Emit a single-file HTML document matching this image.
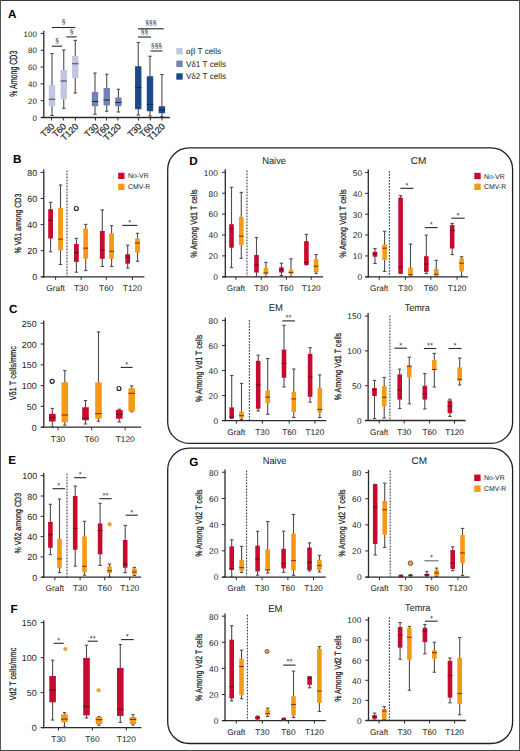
<!DOCTYPE html>
<html><head><meta charset="utf-8"><style>
html,body{margin:0;padding:0;background:#fff;}
svg{display:block;}
text{font-family:"Liberation Sans", sans-serif;text-rendering:geometricPrecision;}
</style></head><body>
<svg width="520" height="751" viewBox="0 0 520 751" font-family="Liberation Sans, sans-serif">
<rect x="0" y="0" width="520" height="751" fill="#fff"/>
<text x="8.1" y="17.7" font-size="11.7" text-anchor="start" font-weight="bold" fill="#000">A</text>
<text x="13" y="162.6" font-size="11.7" text-anchor="start" font-weight="bold" fill="#000">B</text>
<text x="9" y="313.1" font-size="11.7" text-anchor="start" font-weight="bold" fill="#000">C</text>
<text x="189.2" y="165" font-size="11.7" text-anchor="start" font-weight="bold" fill="#000">D</text>
<text x="8.2" y="463.9" font-size="11.7" text-anchor="start" font-weight="bold" fill="#000">E</text>
<text x="10.6" y="613.4" font-size="11.7" text-anchor="start" font-weight="bold" fill="#000">F</text>
<text x="189.2" y="465.8" font-size="11.7" text-anchor="start" font-weight="bold" fill="#000">G</text>
<rect x="167.7" y="147.9" width="344.9" height="295.5" rx="21.5" ry="21.5" fill="none" stroke="#222" stroke-width="1.3"/>
<rect x="167.7" y="448.2" width="344.9" height="295.3" rx="21.5" ry="21.5" fill="none" stroke="#222" stroke-width="1.3"/>
<line x1="43.8" y1="30.7" x2="43.8" y2="118.1" stroke="#2a2a2a" stroke-width="1.3"/>
<line x1="40.6" y1="117.5" x2="43.8" y2="117.5" stroke="#2a2a2a" stroke-width="1"/>
<text x="37.15" y="120.66" font-size="7.9" text-anchor="end" font-weight="normal" fill="#222" letter-spacing="0.15">0</text>
<line x1="40.6" y1="100.68" x2="43.8" y2="100.68" stroke="#2a2a2a" stroke-width="1"/>
<text x="37.15" y="103.84" font-size="7.9" text-anchor="end" font-weight="normal" fill="#222" letter-spacing="0.15">20</text>
<line x1="40.6" y1="83.86" x2="43.8" y2="83.86" stroke="#2a2a2a" stroke-width="1"/>
<text x="37.15" y="87.02" font-size="7.9" text-anchor="end" font-weight="normal" fill="#222" letter-spacing="0.15">40</text>
<line x1="40.6" y1="67.04" x2="43.8" y2="67.04" stroke="#2a2a2a" stroke-width="1"/>
<text x="37.15" y="70.2" font-size="7.9" text-anchor="end" font-weight="normal" fill="#222" letter-spacing="0.15">60</text>
<line x1="40.6" y1="50.22" x2="43.8" y2="50.22" stroke="#2a2a2a" stroke-width="1"/>
<text x="37.15" y="53.38" font-size="7.9" text-anchor="end" font-weight="normal" fill="#222" letter-spacing="0.15">80</text>
<line x1="40.6" y1="33.4" x2="43.8" y2="33.4" stroke="#2a2a2a" stroke-width="1"/>
<text x="37.15" y="36.56" font-size="7.9" text-anchor="end" font-weight="normal" fill="#222" letter-spacing="0.15">100</text>
<line x1="41.3" y1="117.5" x2="169.8" y2="117.5" stroke="#2a2a2a" stroke-width="1.3"/>
<line x1="51.5" y1="117.5" x2="51.5" y2="120.5" stroke="#2a2a2a" stroke-width="1"/>
<line x1="63.3" y1="117.5" x2="63.3" y2="120.5" stroke="#2a2a2a" stroke-width="1"/>
<line x1="75.4" y1="117.5" x2="75.4" y2="120.5" stroke="#2a2a2a" stroke-width="1"/>
<line x1="95.4" y1="117.5" x2="95.4" y2="120.5" stroke="#2a2a2a" stroke-width="1"/>
<line x1="106.6" y1="117.5" x2="106.6" y2="120.5" stroke="#2a2a2a" stroke-width="1"/>
<line x1="117.9" y1="117.5" x2="117.9" y2="120.5" stroke="#2a2a2a" stroke-width="1"/>
<line x1="138.6" y1="117.5" x2="138.6" y2="120.5" stroke="#2a2a2a" stroke-width="1"/>
<line x1="150.4" y1="117.5" x2="150.4" y2="120.5" stroke="#2a2a2a" stroke-width="1"/>
<line x1="162" y1="117.5" x2="162" y2="120.5" stroke="#2a2a2a" stroke-width="1"/>
<line x1="52" y1="53.5" x2="52" y2="115.5" stroke="#4e4e4e" stroke-width="1.1"/>
<line x1="50.3" y1="53.5" x2="53.7" y2="53.5" stroke="#4e4e4e" stroke-width="1.1"/>
<line x1="50.3" y1="115.5" x2="53.7" y2="115.5" stroke="#4e4e4e" stroke-width="1.1"/>
<rect x="48.8" y="85" width="6.4" height="21.25" fill="#c3c6df"/>
<line x1="48.8" y1="99.25" x2="55.2" y2="99.25" stroke="#3d4a7a" stroke-width="1.1"/>
<line x1="63.75" y1="50" x2="63.75" y2="108.25" stroke="#4e4e4e" stroke-width="1.1"/>
<line x1="62.05" y1="50" x2="65.45" y2="50" stroke="#4e4e4e" stroke-width="1.1"/>
<line x1="62.05" y1="108.25" x2="65.45" y2="108.25" stroke="#4e4e4e" stroke-width="1.1"/>
<rect x="60.55" y="70" width="6.4" height="29.25" fill="#c3c6df"/>
<line x1="60.55" y1="81" x2="66.95" y2="81" stroke="#3d4a7a" stroke-width="1.1"/>
<line x1="75.25" y1="40.4" x2="75.25" y2="93" stroke="#4e4e4e" stroke-width="1.1"/>
<line x1="73.55" y1="40.4" x2="76.95" y2="40.4" stroke="#4e4e4e" stroke-width="1.1"/>
<line x1="73.55" y1="93" x2="76.95" y2="93" stroke="#4e4e4e" stroke-width="1.1"/>
<rect x="72.05" y="56" width="6.4" height="22.25" fill="#c3c6df"/>
<line x1="72.05" y1="63.75" x2="78.45" y2="63.75" stroke="#3d4a7a" stroke-width="1.1"/>
<line x1="95" y1="73" x2="95" y2="114.25" stroke="#4e4e4e" stroke-width="1.1"/>
<line x1="93.3" y1="73" x2="96.7" y2="73" stroke="#4e4e4e" stroke-width="1.1"/>
<line x1="93.3" y1="114.25" x2="96.7" y2="114.25" stroke="#4e4e4e" stroke-width="1.1"/>
<rect x="91.8" y="92" width="6.4" height="14.25" fill="#7083b3"/>
<line x1="91.8" y1="101.5" x2="98.2" y2="101.5" stroke="#1c2a55" stroke-width="1.1"/>
<line x1="106.75" y1="74.25" x2="106.75" y2="111.25" stroke="#4e4e4e" stroke-width="1.1"/>
<line x1="105.05" y1="74.25" x2="108.45" y2="74.25" stroke="#4e4e4e" stroke-width="1.1"/>
<line x1="105.05" y1="111.25" x2="108.45" y2="111.25" stroke="#4e4e4e" stroke-width="1.1"/>
<rect x="103.55" y="88" width="6.4" height="17.5" fill="#7083b3"/>
<line x1="103.55" y1="100" x2="109.95" y2="100" stroke="#1c2a55" stroke-width="1.1"/>
<line x1="118.4" y1="89.25" x2="118.4" y2="112" stroke="#4e4e4e" stroke-width="1.1"/>
<line x1="116.7" y1="89.25" x2="120.1" y2="89.25" stroke="#4e4e4e" stroke-width="1.1"/>
<line x1="116.7" y1="112" x2="120.1" y2="112" stroke="#4e4e4e" stroke-width="1.1"/>
<rect x="115.2" y="97.5" width="6.4" height="8.75" fill="#7083b3"/>
<line x1="115.2" y1="102.5" x2="121.6" y2="102.5" stroke="#1c2a55" stroke-width="1.1"/>
<line x1="138.25" y1="42.5" x2="138.25" y2="115" stroke="#4e4e4e" stroke-width="1.1"/>
<line x1="136.55" y1="42.5" x2="139.95" y2="42.5" stroke="#4e4e4e" stroke-width="1.1"/>
<line x1="136.55" y1="115" x2="139.95" y2="115" stroke="#4e4e4e" stroke-width="1.1"/>
<rect x="135.05" y="66.25" width="6.4" height="43" fill="#1a4a8a"/>
<line x1="135.05" y1="87.5" x2="141.45" y2="87.5" stroke="#0e2d5a" stroke-width="1.1"/>
<line x1="150" y1="56.25" x2="150" y2="116" stroke="#4e4e4e" stroke-width="1.1"/>
<line x1="148.3" y1="56.25" x2="151.7" y2="56.25" stroke="#4e4e4e" stroke-width="1.1"/>
<line x1="148.3" y1="116" x2="151.7" y2="116" stroke="#4e4e4e" stroke-width="1.1"/>
<rect x="146.8" y="76.25" width="6.4" height="35" fill="#1a4a8a"/>
<line x1="146.8" y1="104.5" x2="153.2" y2="104.5" stroke="#0e2d5a" stroke-width="1.1"/>
<line x1="161.9" y1="74.5" x2="161.9" y2="116.5" stroke="#4e4e4e" stroke-width="1.1"/>
<line x1="160.2" y1="74.5" x2="163.6" y2="74.5" stroke="#4e4e4e" stroke-width="1.1"/>
<line x1="160.2" y1="116.5" x2="163.6" y2="116.5" stroke="#4e4e4e" stroke-width="1.1"/>
<rect x="158.7" y="106.25" width="6.4" height="7" fill="#1a4a8a"/>
<line x1="158.7" y1="110" x2="165.1" y2="110" stroke="#0e2d5a" stroke-width="1.1"/>
<text transform="translate(55,127) rotate(-45)" font-size="8.9" text-anchor="end" fill="#222" stroke="#222" stroke-width="0.2">T30</text>
<text transform="translate(66.8,127) rotate(-45)" font-size="8.9" text-anchor="end" fill="#222" stroke="#222" stroke-width="0.2">T60</text>
<text transform="translate(78.9,127) rotate(-45)" font-size="8.9" text-anchor="end" fill="#222" stroke="#222" stroke-width="0.2">T120</text>
<text transform="translate(98.9,127) rotate(-45)" font-size="8.9" text-anchor="end" fill="#222" stroke="#222" stroke-width="0.2">T30</text>
<text transform="translate(110.1,127) rotate(-45)" font-size="8.9" text-anchor="end" fill="#222" stroke="#222" stroke-width="0.2">T60</text>
<text transform="translate(121.4,127) rotate(-45)" font-size="8.9" text-anchor="end" fill="#222" stroke="#222" stroke-width="0.2">T120</text>
<text transform="translate(142.1,127) rotate(-45)" font-size="8.9" text-anchor="end" fill="#222" stroke="#222" stroke-width="0.2">T30</text>
<text transform="translate(153.9,127) rotate(-45)" font-size="8.9" text-anchor="end" fill="#222" stroke="#222" stroke-width="0.2">T60</text>
<text transform="translate(165.5,127) rotate(-45)" font-size="8.9" text-anchor="end" fill="#222" stroke="#222" stroke-width="0.2">T120</text>
<line x1="52" y1="27.5" x2="75.2" y2="27.5" stroke="#2a2a2a" stroke-width="1.1"/>
<text x="63.6" y="24.1" font-size="6.6" text-anchor="middle" font-weight="normal" fill="#222">&#167;</text>
<line x1="66.4" y1="36.9" x2="76.7" y2="36.9" stroke="#2a2a2a" stroke-width="1.1"/>
<text x="71.55" y="33.5" font-size="6.6" text-anchor="middle" font-weight="normal" fill="#222">&#167;</text>
<line x1="51.8" y1="46.2" x2="62.3" y2="46.2" stroke="#2a2a2a" stroke-width="1.1"/>
<text x="57.05" y="42.8" font-size="6.6" text-anchor="middle" font-weight="normal" fill="#222">&#167;</text>
<line x1="138" y1="28.8" x2="163.7" y2="28.8" stroke="#2a2a2a" stroke-width="1.1"/>
<text x="150.85" y="25.4" font-size="6.6" text-anchor="middle" font-weight="normal" fill="#222">&#167;&#167;&#167;</text>
<line x1="138" y1="37" x2="151" y2="37" stroke="#2a2a2a" stroke-width="1.1"/>
<text x="144.5" y="33.6" font-size="6.6" text-anchor="middle" font-weight="normal" fill="#222">&#167;&#167;</text>
<line x1="150.5" y1="51" x2="162.5" y2="51" stroke="#2a2a2a" stroke-width="1.1"/>
<text x="156.5" y="47.6" font-size="6.6" text-anchor="middle" font-weight="normal" fill="#222">&#167;&#167;&#167;</text>
<rect x="176.3" y="48" width="6.4" height="6.4" fill="#c3c6df"/>
<text x="186" y="54.1" font-size="8.2" text-anchor="start" font-weight="normal" fill="#222"><tspan font-family="Liberation Serif, serif" font-size="9">&#945;&#946;</tspan> T cells</text>
<rect x="176.3" y="60.6" width="6.4" height="6.4" fill="#7083b3"/>
<text x="186" y="66.7" font-size="8.2" text-anchor="start" font-weight="normal" fill="#222">V<tspan font-family="Liberation Serif, serif" font-size="9">&#948;</tspan>1 T cells</text>
<rect x="176.3" y="73.3" width="6.4" height="6.4" fill="#1a4a8a"/>
<text x="186" y="79.4" font-size="8.2" text-anchor="start" font-weight="normal" fill="#222">V<tspan font-family="Liberation Serif, serif" font-size="9">&#948;</tspan>2 T cells</text>
<text transform="translate(17,73.7) rotate(-90)" x="0" y="0" font-size="10.6" text-anchor="middle" fill="#222" stroke="#222" stroke-width="0.25" textLength="46" lengthAdjust="spacingAndGlyphs">% Among CD3</text>
<line x1="43.8" y1="169.6" x2="43.8" y2="277.4" stroke="#2a2a2a" stroke-width="1.3"/>
<line x1="40.6" y1="276.8" x2="43.8" y2="276.8" stroke="#2a2a2a" stroke-width="1"/>
<text x="37.45" y="280.36" font-size="8.9" text-anchor="end" font-weight="normal" fill="#222" letter-spacing="0.15">0</text>
<line x1="40.6" y1="250.7" x2="43.8" y2="250.7" stroke="#2a2a2a" stroke-width="1"/>
<text x="37.45" y="254.26" font-size="8.9" text-anchor="end" font-weight="normal" fill="#222" letter-spacing="0.15">20</text>
<line x1="40.6" y1="224.6" x2="43.8" y2="224.6" stroke="#2a2a2a" stroke-width="1"/>
<text x="37.45" y="228.16" font-size="8.9" text-anchor="end" font-weight="normal" fill="#222" letter-spacing="0.15">40</text>
<line x1="40.6" y1="198.5" x2="43.8" y2="198.5" stroke="#2a2a2a" stroke-width="1"/>
<text x="37.45" y="202.06" font-size="8.9" text-anchor="end" font-weight="normal" fill="#222" letter-spacing="0.15">60</text>
<line x1="40.6" y1="172.4" x2="43.8" y2="172.4" stroke="#2a2a2a" stroke-width="1"/>
<text x="37.45" y="175.96" font-size="8.9" text-anchor="end" font-weight="normal" fill="#222" letter-spacing="0.15">80</text>
<line x1="41.5" y1="276.8" x2="144.4" y2="276.8" stroke="#2a2a2a" stroke-width="1.3"/>
<line x1="55.6" y1="276.8" x2="55.6" y2="279.8" stroke="#2a2a2a" stroke-width="1"/>
<text x="55.6" y="291.2" font-size="8.4" text-anchor="middle" font-weight="normal" fill="#222">Graft</text>
<line x1="81.1" y1="276.8" x2="81.1" y2="279.8" stroke="#2a2a2a" stroke-width="1"/>
<text x="81.1" y="291.2" font-size="8.4" text-anchor="middle" font-weight="normal" fill="#222">T30</text>
<line x1="106.3" y1="276.8" x2="106.3" y2="279.8" stroke="#2a2a2a" stroke-width="1"/>
<text x="106.3" y="291.2" font-size="8.4" text-anchor="middle" font-weight="normal" fill="#222">T60</text>
<line x1="132.4" y1="276.8" x2="132.4" y2="279.8" stroke="#2a2a2a" stroke-width="1"/>
<text x="132.4" y="291.2" font-size="8.4" text-anchor="middle" font-weight="normal" fill="#222">T120</text>
<line x1="67" y1="170.5" x2="67" y2="276.5" stroke="#3a4254" stroke-width="1.1" stroke-dasharray="1.8,1.2"/>
<line x1="50.6" y1="202.3" x2="50.6" y2="251.8" stroke="#4e4e4e" stroke-width="1.1"/>
<line x1="48.9" y1="202.3" x2="52.3" y2="202.3" stroke="#4e4e4e" stroke-width="1.1"/>
<line x1="48.9" y1="251.8" x2="52.3" y2="251.8" stroke="#4e4e4e" stroke-width="1.1"/>
<rect x="48.2" y="209.2" width="4.8" height="29.2" fill="#c70a30"/>
<line x1="48.2" y1="220.3" x2="53" y2="220.3" stroke="#6e0a18" stroke-width="1.1"/>
<line x1="60.5" y1="185" x2="60.5" y2="264.5" stroke="#4e4e4e" stroke-width="1.1"/>
<line x1="58.8" y1="185" x2="62.2" y2="185" stroke="#4e4e4e" stroke-width="1.1"/>
<line x1="58.8" y1="264.5" x2="62.2" y2="264.5" stroke="#4e4e4e" stroke-width="1.1"/>
<rect x="58.1" y="208" width="4.8" height="42.1" fill="#f49a14"/>
<line x1="58.1" y1="239.2" x2="62.9" y2="239.2" stroke="#7a3a00" stroke-width="1.1"/>
<line x1="76.4" y1="238.4" x2="76.4" y2="272.2" stroke="#4e4e4e" stroke-width="1.1"/>
<line x1="74.7" y1="238.4" x2="78.1" y2="238.4" stroke="#4e4e4e" stroke-width="1.1"/>
<line x1="74.7" y1="272.2" x2="78.1" y2="272.2" stroke="#4e4e4e" stroke-width="1.1"/>
<rect x="74" y="244.1" width="4.8" height="17.8" fill="#c70a30"/>
<line x1="74" y1="252.6" x2="78.8" y2="252.6" stroke="#6e0a18" stroke-width="1.1"/>
<line x1="85.7" y1="224.4" x2="85.7" y2="270.6" stroke="#4e4e4e" stroke-width="1.1"/>
<line x1="84" y1="224.4" x2="87.4" y2="224.4" stroke="#4e4e4e" stroke-width="1.1"/>
<line x1="84" y1="270.6" x2="87.4" y2="270.6" stroke="#4e4e4e" stroke-width="1.1"/>
<rect x="83.3" y="228.5" width="4.8" height="30.3" fill="#f49a14"/>
<line x1="83.3" y1="248.2" x2="88.1" y2="248.2" stroke="#7a3a00" stroke-width="1.1"/>
<line x1="102.3" y1="210" x2="102.3" y2="266.5" stroke="#4e4e4e" stroke-width="1.1"/>
<line x1="100.6" y1="210" x2="104" y2="210" stroke="#4e4e4e" stroke-width="1.1"/>
<line x1="100.6" y1="266.5" x2="104" y2="266.5" stroke="#4e4e4e" stroke-width="1.1"/>
<rect x="99.9" y="231" width="4.8" height="27.8" fill="#c70a30"/>
<line x1="99.9" y1="250.1" x2="104.7" y2="250.1" stroke="#6e0a18" stroke-width="1.1"/>
<line x1="111.6" y1="225.6" x2="111.6" y2="266.5" stroke="#4e4e4e" stroke-width="1.1"/>
<line x1="109.9" y1="225.6" x2="113.3" y2="225.6" stroke="#4e4e4e" stroke-width="1.1"/>
<line x1="109.9" y1="266.5" x2="113.3" y2="266.5" stroke="#4e4e4e" stroke-width="1.1"/>
<rect x="109.2" y="233.4" width="4.8" height="25.4" fill="#f49a14"/>
<line x1="109.2" y1="251.3" x2="114" y2="251.3" stroke="#7a3a00" stroke-width="1.1"/>
<line x1="127.7" y1="245.2" x2="127.7" y2="268.1" stroke="#4e4e4e" stroke-width="1.1"/>
<line x1="126" y1="245.2" x2="129.4" y2="245.2" stroke="#4e4e4e" stroke-width="1.1"/>
<line x1="126" y1="268.1" x2="129.4" y2="268.1" stroke="#4e4e4e" stroke-width="1.1"/>
<rect x="125.3" y="254.2" width="4.8" height="9.5" fill="#c70a30"/>
<line x1="125.3" y1="257.2" x2="130.1" y2="257.2" stroke="#6e0a18" stroke-width="1.1"/>
<line x1="137.5" y1="233.3" x2="137.5" y2="261.3" stroke="#4e4e4e" stroke-width="1.1"/>
<line x1="135.8" y1="233.3" x2="139.2" y2="233.3" stroke="#4e4e4e" stroke-width="1.1"/>
<line x1="135.8" y1="261.3" x2="139.2" y2="261.3" stroke="#4e4e4e" stroke-width="1.1"/>
<rect x="135.1" y="238.6" width="4.8" height="14" fill="#f49a14"/>
<line x1="135.1" y1="243" x2="139.9" y2="243" stroke="#7a3a00" stroke-width="1.1"/>
<circle cx="76.3" cy="208.5" r="2" fill="none" stroke="#222" stroke-width="1.15"/>
<line x1="122.3" y1="225.4" x2="137.3" y2="225.4" stroke="#2a2a2a" stroke-width="1.1"/>
<text x="129.8" y="224.7" font-size="7.6" text-anchor="middle" font-weight="normal" fill="#222">*</text>
<rect x="118.2" y="172.7" width="6.3" height="6.3" fill="#c70a30"/>
<text x="128" y="178.35" font-size="6.9" text-anchor="start" font-weight="normal" fill="#222">No-VR</text>
<rect x="118.2" y="183.7" width="6.3" height="6.3" fill="#f49a14"/>
<text x="128" y="189.35" font-size="6.9" text-anchor="start" font-weight="normal" fill="#222">CMV-R</text>
<text transform="translate(21,223.6) rotate(-90)" x="0" y="0" font-size="8.9" text-anchor="middle" fill="#222" stroke="#222" stroke-width="0.25" textLength="59.8" lengthAdjust="spacingAndGlyphs">% V&#948;1 among CD3</text>
<line x1="43.8" y1="320.5" x2="43.8" y2="427.8" stroke="#2a2a2a" stroke-width="1.3"/>
<line x1="40.6" y1="427.2" x2="43.8" y2="427.2" stroke="#2a2a2a" stroke-width="1"/>
<text x="36.95" y="430.76" font-size="8.9" text-anchor="end" font-weight="normal" fill="#222" letter-spacing="0.15">0</text>
<line x1="40.6" y1="406.4" x2="43.8" y2="406.4" stroke="#2a2a2a" stroke-width="1"/>
<text x="36.95" y="409.96" font-size="8.9" text-anchor="end" font-weight="normal" fill="#222" letter-spacing="0.15">50</text>
<line x1="40.6" y1="385.6" x2="43.8" y2="385.6" stroke="#2a2a2a" stroke-width="1"/>
<text x="36.95" y="389.16" font-size="8.9" text-anchor="end" font-weight="normal" fill="#222" letter-spacing="0.15">100</text>
<line x1="40.6" y1="364.8" x2="43.8" y2="364.8" stroke="#2a2a2a" stroke-width="1"/>
<text x="36.95" y="368.36" font-size="8.9" text-anchor="end" font-weight="normal" fill="#222" letter-spacing="0.15">150</text>
<line x1="40.6" y1="344" x2="43.8" y2="344" stroke="#2a2a2a" stroke-width="1"/>
<text x="36.95" y="347.56" font-size="8.9" text-anchor="end" font-weight="normal" fill="#222" letter-spacing="0.15">200</text>
<line x1="40.6" y1="323.2" x2="43.8" y2="323.2" stroke="#2a2a2a" stroke-width="1"/>
<text x="36.95" y="326.76" font-size="8.9" text-anchor="end" font-weight="normal" fill="#222" letter-spacing="0.15">250</text>
<line x1="41.5" y1="427.2" x2="141.1" y2="427.2" stroke="#2a2a2a" stroke-width="1.3"/>
<line x1="58" y1="427.2" x2="58" y2="430.2" stroke="#2a2a2a" stroke-width="1"/>
<text x="58" y="441.7" font-size="8.4" text-anchor="middle" font-weight="normal" fill="#222">T30</text>
<line x1="91.7" y1="427.2" x2="91.7" y2="430.2" stroke="#2a2a2a" stroke-width="1"/>
<text x="91.7" y="441.7" font-size="8.4" text-anchor="middle" font-weight="normal" fill="#222">T60</text>
<line x1="125.2" y1="427.2" x2="125.2" y2="430.2" stroke="#2a2a2a" stroke-width="1"/>
<text x="125.2" y="441.7" font-size="8.4" text-anchor="middle" font-weight="normal" fill="#222">T120</text>
<line x1="52.3" y1="408.4" x2="52.3" y2="427" stroke="#4e4e4e" stroke-width="1.1"/>
<line x1="50.6" y1="408.4" x2="54" y2="408.4" stroke="#4e4e4e" stroke-width="1.1"/>
<line x1="50.6" y1="427" x2="54" y2="427" stroke="#4e4e4e" stroke-width="1.1"/>
<rect x="49" y="413.8" width="6.6" height="7.7" fill="#c70a30"/>
<line x1="49" y1="417.4" x2="55.6" y2="417.4" stroke="#6e0a18" stroke-width="1.1"/>
<line x1="64.8" y1="370.6" x2="64.8" y2="425.1" stroke="#4e4e4e" stroke-width="1.1"/>
<line x1="63.1" y1="370.6" x2="66.5" y2="370.6" stroke="#4e4e4e" stroke-width="1.1"/>
<line x1="63.1" y1="425.1" x2="66.5" y2="425.1" stroke="#4e4e4e" stroke-width="1.1"/>
<rect x="61.5" y="382.3" width="6.6" height="40" fill="#f49a14"/>
<line x1="61.5" y1="415" x2="68.1" y2="415" stroke="#7a3a00" stroke-width="1.1"/>
<line x1="85.5" y1="400.6" x2="85.5" y2="424" stroke="#4e4e4e" stroke-width="1.1"/>
<line x1="83.8" y1="400.6" x2="87.2" y2="400.6" stroke="#4e4e4e" stroke-width="1.1"/>
<line x1="83.8" y1="424" x2="87.2" y2="424" stroke="#4e4e4e" stroke-width="1.1"/>
<rect x="82.2" y="407.3" width="6.6" height="12.9" fill="#c70a30"/>
<line x1="82.2" y1="418.2" x2="88.8" y2="418.2" stroke="#6e0a18" stroke-width="1.1"/>
<line x1="98.5" y1="331.9" x2="98.5" y2="421.2" stroke="#4e4e4e" stroke-width="1.1"/>
<line x1="96.8" y1="331.9" x2="100.2" y2="331.9" stroke="#4e4e4e" stroke-width="1.1"/>
<line x1="96.8" y1="421.2" x2="100.2" y2="421.2" stroke="#4e4e4e" stroke-width="1.1"/>
<rect x="95.2" y="382.4" width="6.6" height="36.3" fill="#f49a14"/>
<line x1="95.2" y1="413.6" x2="101.8" y2="413.6" stroke="#7a3a00" stroke-width="1.1"/>
<line x1="119.3" y1="409.2" x2="119.3" y2="422" stroke="#4e4e4e" stroke-width="1.1"/>
<line x1="117.6" y1="409.2" x2="121" y2="409.2" stroke="#4e4e4e" stroke-width="1.1"/>
<line x1="117.6" y1="422" x2="121" y2="422" stroke="#4e4e4e" stroke-width="1.1"/>
<rect x="116" y="410" width="6.6" height="8.7" fill="#c70a30"/>
<line x1="116" y1="414.1" x2="122.6" y2="414.1" stroke="#6e0a18" stroke-width="1.1"/>
<line x1="131.7" y1="385.9" x2="131.7" y2="411.8" stroke="#4e4e4e" stroke-width="1.1"/>
<line x1="130" y1="385.9" x2="133.4" y2="385.9" stroke="#4e4e4e" stroke-width="1.1"/>
<line x1="130" y1="411.8" x2="133.4" y2="411.8" stroke="#4e4e4e" stroke-width="1.1"/>
<rect x="128.4" y="388.2" width="6.6" height="23.2" fill="#f49a14"/>
<line x1="128.4" y1="393.3" x2="135" y2="393.3" stroke="#7a3a00" stroke-width="1.1"/>
<circle cx="52.2" cy="381.3" r="2" fill="none" stroke="#222" stroke-width="1.15"/>
<circle cx="119" cy="388.5" r="2" fill="none" stroke="#222" stroke-width="1.15"/>
<line x1="120.7" y1="367.4" x2="132.6" y2="367.4" stroke="#2a2a2a" stroke-width="1.1"/>
<text x="126.65" y="366.7" font-size="7.6" text-anchor="middle" font-weight="normal" fill="#222">*</text>
<text transform="translate(16.3,373.2) rotate(-90)" x="0" y="0" font-size="9.3" text-anchor="middle" fill="#222" stroke="#222" stroke-width="0.25" textLength="54.2" lengthAdjust="spacingAndGlyphs">V&#948;1 T cells/mmc</text>
<line x1="43.8" y1="473" x2="43.8" y2="577.8" stroke="#2a2a2a" stroke-width="1.3"/>
<line x1="40.6" y1="577.2" x2="43.8" y2="577.2" stroke="#2a2a2a" stroke-width="1"/>
<text x="37.45" y="580.76" font-size="8.9" text-anchor="end" font-weight="normal" fill="#222" letter-spacing="0.15">0</text>
<line x1="40.6" y1="556.9" x2="43.8" y2="556.9" stroke="#2a2a2a" stroke-width="1"/>
<text x="37.45" y="560.46" font-size="8.9" text-anchor="end" font-weight="normal" fill="#222" letter-spacing="0.15">20</text>
<line x1="40.6" y1="536.6" x2="43.8" y2="536.6" stroke="#2a2a2a" stroke-width="1"/>
<text x="37.45" y="540.16" font-size="8.9" text-anchor="end" font-weight="normal" fill="#222" letter-spacing="0.15">40</text>
<line x1="40.6" y1="516.3" x2="43.8" y2="516.3" stroke="#2a2a2a" stroke-width="1"/>
<text x="37.45" y="519.86" font-size="8.9" text-anchor="end" font-weight="normal" fill="#222" letter-spacing="0.15">60</text>
<line x1="40.6" y1="496" x2="43.8" y2="496" stroke="#2a2a2a" stroke-width="1"/>
<text x="37.45" y="499.56" font-size="8.9" text-anchor="end" font-weight="normal" fill="#222" letter-spacing="0.15">80</text>
<line x1="40.6" y1="475.7" x2="43.8" y2="475.7" stroke="#2a2a2a" stroke-width="1"/>
<text x="37.45" y="479.26" font-size="8.9" text-anchor="end" font-weight="normal" fill="#222" letter-spacing="0.15">100</text>
<line x1="41.5" y1="577.2" x2="141.1" y2="577.2" stroke="#2a2a2a" stroke-width="1.3"/>
<line x1="54.8" y1="577.2" x2="54.8" y2="580.2" stroke="#2a2a2a" stroke-width="1"/>
<text x="54.8" y="591.3" font-size="8.4" text-anchor="middle" font-weight="normal" fill="#222">Graft</text>
<line x1="80.1" y1="577.2" x2="80.1" y2="580.2" stroke="#2a2a2a" stroke-width="1"/>
<text x="80.1" y="591.3" font-size="8.4" text-anchor="middle" font-weight="normal" fill="#222">T30</text>
<line x1="104.7" y1="577.2" x2="104.7" y2="580.2" stroke="#2a2a2a" stroke-width="1"/>
<text x="104.7" y="591.3" font-size="8.4" text-anchor="middle" font-weight="normal" fill="#222">T60</text>
<line x1="129.7" y1="577.2" x2="129.7" y2="580.2" stroke="#2a2a2a" stroke-width="1"/>
<text x="129.7" y="591.3" font-size="8.4" text-anchor="middle" font-weight="normal" fill="#222">T120</text>
<line x1="67" y1="473.5" x2="67" y2="577" stroke="#3a4254" stroke-width="1.1" stroke-dasharray="1.8,1.2"/>
<line x1="50.4" y1="504.3" x2="50.4" y2="554.7" stroke="#4e4e4e" stroke-width="1.1"/>
<line x1="48.7" y1="504.3" x2="52.1" y2="504.3" stroke="#4e4e4e" stroke-width="1.1"/>
<line x1="48.7" y1="554.7" x2="52.1" y2="554.7" stroke="#4e4e4e" stroke-width="1.1"/>
<rect x="48.1" y="521.9" width="4.6" height="25.9" fill="#c70a30"/>
<line x1="48.1" y1="534.7" x2="52.7" y2="534.7" stroke="#6e0a18" stroke-width="1.1"/>
<line x1="59.5" y1="499" x2="59.5" y2="572.6" stroke="#4e4e4e" stroke-width="1.1"/>
<line x1="57.8" y1="499" x2="61.2" y2="499" stroke="#4e4e4e" stroke-width="1.1"/>
<line x1="57.8" y1="572.6" x2="61.2" y2="572.6" stroke="#4e4e4e" stroke-width="1.1"/>
<rect x="57.2" y="538.8" width="4.6" height="29.4" fill="#f49a14"/>
<line x1="57.2" y1="558.9" x2="61.8" y2="558.9" stroke="#7a3a00" stroke-width="1.1"/>
<line x1="75.2" y1="486.1" x2="75.2" y2="566.1" stroke="#4e4e4e" stroke-width="1.1"/>
<line x1="73.5" y1="486.1" x2="76.9" y2="486.1" stroke="#4e4e4e" stroke-width="1.1"/>
<line x1="73.5" y1="566.1" x2="76.9" y2="566.1" stroke="#4e4e4e" stroke-width="1.1"/>
<rect x="72.9" y="496" width="4.6" height="53.7" fill="#c70a30"/>
<line x1="72.9" y1="528.5" x2="77.5" y2="528.5" stroke="#6e0a18" stroke-width="1.1"/>
<line x1="84.5" y1="521.3" x2="84.5" y2="575.2" stroke="#4e4e4e" stroke-width="1.1"/>
<line x1="82.8" y1="521.3" x2="86.2" y2="521.3" stroke="#4e4e4e" stroke-width="1.1"/>
<line x1="82.8" y1="575.2" x2="86.2" y2="575.2" stroke="#4e4e4e" stroke-width="1.1"/>
<rect x="82.2" y="536.5" width="4.6" height="35.8" fill="#f49a14"/>
<line x1="82.2" y1="566.3" x2="86.8" y2="566.3" stroke="#7a3a00" stroke-width="1.1"/>
<line x1="100.1" y1="503.3" x2="100.1" y2="565.4" stroke="#4e4e4e" stroke-width="1.1"/>
<line x1="98.4" y1="503.3" x2="101.8" y2="503.3" stroke="#4e4e4e" stroke-width="1.1"/>
<line x1="98.4" y1="565.4" x2="101.8" y2="565.4" stroke="#4e4e4e" stroke-width="1.1"/>
<rect x="97.8" y="523.4" width="4.6" height="30.9" fill="#c70a30"/>
<line x1="97.8" y1="530.6" x2="102.4" y2="530.6" stroke="#6e0a18" stroke-width="1.1"/>
<line x1="109.5" y1="564.1" x2="109.5" y2="577" stroke="#4e4e4e" stroke-width="1.1"/>
<line x1="107.8" y1="564.1" x2="111.2" y2="564.1" stroke="#4e4e4e" stroke-width="1.1"/>
<line x1="107.8" y1="577" x2="111.2" y2="577" stroke="#4e4e4e" stroke-width="1.1"/>
<rect x="107.2" y="566.3" width="4.6" height="6.8" fill="#f49a14"/>
<line x1="107.2" y1="570.7" x2="111.8" y2="570.7" stroke="#7a3a00" stroke-width="1.1"/>
<line x1="125.2" y1="525.4" x2="125.2" y2="572.6" stroke="#4e4e4e" stroke-width="1.1"/>
<line x1="123.5" y1="525.4" x2="126.9" y2="525.4" stroke="#4e4e4e" stroke-width="1.1"/>
<line x1="123.5" y1="572.6" x2="126.9" y2="572.6" stroke="#4e4e4e" stroke-width="1.1"/>
<rect x="122.9" y="540" width="4.6" height="27.7" fill="#c70a30"/>
<line x1="122.9" y1="564.1" x2="127.5" y2="564.1" stroke="#6e0a18" stroke-width="1.1"/>
<line x1="134.4" y1="567.4" x2="134.4" y2="575.5" stroke="#4e4e4e" stroke-width="1.1"/>
<line x1="132.7" y1="567.4" x2="136.1" y2="567.4" stroke="#4e4e4e" stroke-width="1.1"/>
<line x1="132.7" y1="575.5" x2="136.1" y2="575.5" stroke="#4e4e4e" stroke-width="1.1"/>
<rect x="132.1" y="568.5" width="4.6" height="5.8" fill="#f49a14"/>
<line x1="132.1" y1="572" x2="136.7" y2="572" stroke="#7a3a00" stroke-width="1.1"/>
<circle cx="109.6" cy="524.3" r="2.2" fill="#f5a33a" stroke="none" stroke-width="1.15"/>
<line x1="52.6" y1="488.7" x2="65" y2="488.7" stroke="#2a2a2a" stroke-width="1.1"/>
<text x="58.8" y="488" font-size="7.6" text-anchor="middle" font-weight="normal" fill="#222">*</text>
<line x1="74.1" y1="477.7" x2="86.3" y2="477.7" stroke="#2a2a2a" stroke-width="1.1"/>
<text x="80.2" y="477" font-size="7.6" text-anchor="middle" font-weight="normal" fill="#222">*</text>
<line x1="99.4" y1="498.7" x2="111.7" y2="498.7" stroke="#2a2a2a" stroke-width="1.1"/>
<text x="105.55" y="498" font-size="7.6" text-anchor="middle" font-weight="normal" fill="#222">**</text>
<line x1="125.6" y1="515.2" x2="137.8" y2="515.2" stroke="#2a2a2a" stroke-width="1.1"/>
<text x="131.7" y="514.5" font-size="7.6" text-anchor="middle" font-weight="normal" fill="#222">*</text>
<text transform="translate(21,523.2) rotate(-90)" x="0" y="0" font-size="8.9" text-anchor="middle" fill="#222" stroke="#222" stroke-width="0.25" textLength="60.6" lengthAdjust="spacingAndGlyphs">% V&#948;2 among CD3</text>
<line x1="43.8" y1="620.5" x2="43.8" y2="728.2" stroke="#2a2a2a" stroke-width="1.3"/>
<line x1="40.6" y1="727.6" x2="43.8" y2="727.6" stroke="#2a2a2a" stroke-width="1"/>
<text x="36.95" y="731.16" font-size="8.9" text-anchor="end" font-weight="normal" fill="#222" letter-spacing="0.15">0</text>
<line x1="40.6" y1="692.6" x2="43.8" y2="692.6" stroke="#2a2a2a" stroke-width="1"/>
<text x="36.95" y="696.16" font-size="8.9" text-anchor="end" font-weight="normal" fill="#222" letter-spacing="0.15">50</text>
<line x1="40.6" y1="657.6" x2="43.8" y2="657.6" stroke="#2a2a2a" stroke-width="1"/>
<text x="36.95" y="661.16" font-size="8.9" text-anchor="end" font-weight="normal" fill="#222" letter-spacing="0.15">100</text>
<line x1="40.6" y1="622.6" x2="43.8" y2="622.6" stroke="#2a2a2a" stroke-width="1"/>
<text x="36.95" y="626.16" font-size="8.9" text-anchor="end" font-weight="normal" fill="#222" letter-spacing="0.15">150</text>
<line x1="41.5" y1="727.6" x2="141.4" y2="727.6" stroke="#2a2a2a" stroke-width="1.3"/>
<line x1="58.5" y1="727.6" x2="58.5" y2="730.6" stroke="#2a2a2a" stroke-width="1"/>
<text x="58.5" y="741.7" font-size="8.4" text-anchor="middle" font-weight="normal" fill="#222">T30</text>
<line x1="92.4" y1="727.6" x2="92.4" y2="730.6" stroke="#2a2a2a" stroke-width="1"/>
<text x="92.4" y="741.7" font-size="8.4" text-anchor="middle" font-weight="normal" fill="#222">T60</text>
<line x1="126.4" y1="727.6" x2="126.4" y2="730.6" stroke="#2a2a2a" stroke-width="1"/>
<text x="126.4" y="741.7" font-size="8.4" text-anchor="middle" font-weight="normal" fill="#222">T120</text>
<line x1="52.6" y1="660.2" x2="52.6" y2="720" stroke="#4e4e4e" stroke-width="1.1"/>
<line x1="50.9" y1="660.2" x2="54.3" y2="660.2" stroke="#4e4e4e" stroke-width="1.1"/>
<line x1="50.9" y1="720" x2="54.3" y2="720" stroke="#4e4e4e" stroke-width="1.1"/>
<rect x="49.3" y="676" width="6.6" height="26.3" fill="#c70a30"/>
<line x1="49.3" y1="690" x2="55.9" y2="690" stroke="#6e0a18" stroke-width="1.1"/>
<line x1="64.5" y1="712.6" x2="64.5" y2="727" stroke="#4e4e4e" stroke-width="1.1"/>
<line x1="62.8" y1="712.6" x2="66.2" y2="712.6" stroke="#4e4e4e" stroke-width="1.1"/>
<line x1="62.8" y1="727" x2="66.2" y2="727" stroke="#4e4e4e" stroke-width="1.1"/>
<rect x="61.2" y="714.2" width="6.6" height="8.2" fill="#f49a14"/>
<line x1="61.2" y1="719.1" x2="67.8" y2="719.1" stroke="#7a3a00" stroke-width="1.1"/>
<line x1="86.5" y1="645.3" x2="86.5" y2="718" stroke="#4e4e4e" stroke-width="1.1"/>
<line x1="84.8" y1="645.3" x2="88.2" y2="645.3" stroke="#4e4e4e" stroke-width="1.1"/>
<line x1="84.8" y1="718" x2="88.2" y2="718" stroke="#4e4e4e" stroke-width="1.1"/>
<rect x="83.2" y="657.9" width="6.6" height="57.5" fill="#c70a30"/>
<line x1="83.2" y1="706.5" x2="89.8" y2="706.5" stroke="#6e0a18" stroke-width="1.1"/>
<line x1="99" y1="716.7" x2="99" y2="725.2" stroke="#4e4e4e" stroke-width="1.1"/>
<line x1="97.3" y1="716.7" x2="100.7" y2="716.7" stroke="#4e4e4e" stroke-width="1.1"/>
<line x1="97.3" y1="725.2" x2="100.7" y2="725.2" stroke="#4e4e4e" stroke-width="1.1"/>
<rect x="95.7" y="717" width="6.6" height="7" fill="#f49a14"/>
<line x1="95.7" y1="719.6" x2="102.3" y2="719.6" stroke="#7a3a00" stroke-width="1.1"/>
<line x1="120.3" y1="644.5" x2="120.3" y2="722.4" stroke="#4e4e4e" stroke-width="1.1"/>
<line x1="118.6" y1="644.5" x2="122" y2="644.5" stroke="#4e4e4e" stroke-width="1.1"/>
<line x1="118.6" y1="722.4" x2="122" y2="722.4" stroke="#4e4e4e" stroke-width="1.1"/>
<rect x="117" y="667.9" width="6.6" height="48" fill="#c70a30"/>
<line x1="117" y1="709.3" x2="123.6" y2="709.3" stroke="#6e0a18" stroke-width="1.1"/>
<line x1="133" y1="714.7" x2="133" y2="725" stroke="#4e4e4e" stroke-width="1.1"/>
<line x1="131.3" y1="714.7" x2="134.7" y2="714.7" stroke="#4e4e4e" stroke-width="1.1"/>
<line x1="131.3" y1="725" x2="134.7" y2="725" stroke="#4e4e4e" stroke-width="1.1"/>
<rect x="129.7" y="717" width="6.6" height="7" fill="#f49a14"/>
<line x1="129.7" y1="719.4" x2="136.3" y2="719.4" stroke="#7a3a00" stroke-width="1.1"/>
<circle cx="65.4" cy="649" r="2.1" fill="#f0a040" stroke="none" stroke-width="1.15"/>
<circle cx="98.6" cy="690.3" r="2.1" fill="#f0a040" stroke="none" stroke-width="1.15"/>
<line x1="53.6" y1="643.3" x2="63.7" y2="643.3" stroke="#2a2a2a" stroke-width="1.1"/>
<text x="58.65" y="642.6" font-size="7.6" text-anchor="middle" font-weight="normal" fill="#222">*</text>
<line x1="87.7" y1="641.2" x2="97.8" y2="641.2" stroke="#2a2a2a" stroke-width="1.1"/>
<text x="92.75" y="640.5" font-size="7.6" text-anchor="middle" font-weight="normal" fill="#222">**</text>
<line x1="121" y1="639.6" x2="133.7" y2="639.6" stroke="#2a2a2a" stroke-width="1.1"/>
<text x="127.35" y="638.9" font-size="7.6" text-anchor="middle" font-weight="normal" fill="#222">*</text>
<text transform="translate(15.8,674) rotate(-90)" x="0" y="0" font-size="9.3" text-anchor="middle" fill="#222" stroke="#222" stroke-width="0.25" textLength="52.6" lengthAdjust="spacingAndGlyphs">Vd2 T cells/mmc</text>
<line x1="225.3" y1="169.3" x2="225.3" y2="277.4" stroke="#2a2a2a" stroke-width="1.3"/>
<line x1="222.1" y1="276.8" x2="225.3" y2="276.8" stroke="#2a2a2a" stroke-width="1"/>
<text x="218.05" y="280.12" font-size="8.3" text-anchor="end" font-weight="normal" fill="#222" letter-spacing="0.15">0</text>
<line x1="222.1" y1="255.9" x2="225.3" y2="255.9" stroke="#2a2a2a" stroke-width="1"/>
<text x="218.05" y="259.22" font-size="8.3" text-anchor="end" font-weight="normal" fill="#222" letter-spacing="0.15">20</text>
<line x1="222.1" y1="235" x2="225.3" y2="235" stroke="#2a2a2a" stroke-width="1"/>
<text x="218.05" y="238.32" font-size="8.3" text-anchor="end" font-weight="normal" fill="#222" letter-spacing="0.15">40</text>
<line x1="222.1" y1="214.1" x2="225.3" y2="214.1" stroke="#2a2a2a" stroke-width="1"/>
<text x="218.05" y="217.42" font-size="8.3" text-anchor="end" font-weight="normal" fill="#222" letter-spacing="0.15">60</text>
<line x1="222.1" y1="193.2" x2="225.3" y2="193.2" stroke="#2a2a2a" stroke-width="1"/>
<text x="218.05" y="196.52" font-size="8.3" text-anchor="end" font-weight="normal" fill="#222" letter-spacing="0.15">80</text>
<line x1="222.1" y1="172.3" x2="225.3" y2="172.3" stroke="#2a2a2a" stroke-width="1"/>
<text x="218.05" y="175.62" font-size="8.3" text-anchor="end" font-weight="normal" fill="#222" letter-spacing="0.15">100</text>
<line x1="222.3" y1="276.8" x2="323.1" y2="276.8" stroke="#2a2a2a" stroke-width="1.3"/>
<line x1="235.9" y1="276.8" x2="235.9" y2="279.8" stroke="#2a2a2a" stroke-width="1"/>
<text x="235.9" y="291" font-size="8.2" text-anchor="middle" font-weight="normal" fill="#222">Graft</text>
<line x1="261.3" y1="276.8" x2="261.3" y2="279.8" stroke="#2a2a2a" stroke-width="1"/>
<text x="261.3" y="291" font-size="8.2" text-anchor="middle" font-weight="normal" fill="#222">T30</text>
<line x1="286.4" y1="276.8" x2="286.4" y2="279.8" stroke="#2a2a2a" stroke-width="1"/>
<text x="286.4" y="291" font-size="8.2" text-anchor="middle" font-weight="normal" fill="#222">T60</text>
<line x1="311.2" y1="276.8" x2="311.2" y2="279.8" stroke="#2a2a2a" stroke-width="1"/>
<text x="311.2" y="291" font-size="8.2" text-anchor="middle" font-weight="normal" fill="#222">T120</text>
<line x1="247" y1="170.4" x2="247" y2="276.3" stroke="#3a4254" stroke-width="1.1" stroke-dasharray="1.8,1.2"/>
<text x="274.1" y="163.6" font-size="9.8" text-anchor="middle" font-weight="normal" fill="#222" textLength="23.8" lengthAdjust="spacingAndGlyphs">Naive</text>
<line x1="231.5" y1="187.3" x2="231.5" y2="267.6" stroke="#4e4e4e" stroke-width="1.1"/>
<line x1="229.8" y1="187.3" x2="233.2" y2="187.3" stroke="#4e4e4e" stroke-width="1.1"/>
<line x1="229.8" y1="267.6" x2="233.2" y2="267.6" stroke="#4e4e4e" stroke-width="1.1"/>
<rect x="229.2" y="224.2" width="4.6" height="23.5" fill="#c70a30"/>
<line x1="229.2" y1="228.9" x2="233.8" y2="228.9" stroke="#6e0a18" stroke-width="1.1"/>
<line x1="241.3" y1="192.4" x2="241.3" y2="258.3" stroke="#4e4e4e" stroke-width="1.1"/>
<line x1="239.6" y1="192.4" x2="243" y2="192.4" stroke="#4e4e4e" stroke-width="1.1"/>
<line x1="239.6" y1="258.3" x2="243" y2="258.3" stroke="#4e4e4e" stroke-width="1.1"/>
<rect x="239" y="216.8" width="4.6" height="28.4" fill="#f49a14"/>
<line x1="239" y1="236.2" x2="243.6" y2="236.2" stroke="#7a3a00" stroke-width="1.1"/>
<line x1="256.5" y1="237.6" x2="256.5" y2="276.5" stroke="#4e4e4e" stroke-width="1.1"/>
<line x1="254.8" y1="237.6" x2="258.2" y2="237.6" stroke="#4e4e4e" stroke-width="1.1"/>
<line x1="254.8" y1="276.5" x2="258.2" y2="276.5" stroke="#4e4e4e" stroke-width="1.1"/>
<rect x="254.2" y="255" width="4.6" height="17.5" fill="#c70a30"/>
<line x1="254.2" y1="264.9" x2="258.8" y2="264.9" stroke="#6e0a18" stroke-width="1.1"/>
<line x1="265.9" y1="262.4" x2="265.9" y2="276.6" stroke="#4e4e4e" stroke-width="1.1"/>
<line x1="264.2" y1="262.4" x2="267.6" y2="262.4" stroke="#4e4e4e" stroke-width="1.1"/>
<line x1="264.2" y1="276.6" x2="267.6" y2="276.6" stroke="#4e4e4e" stroke-width="1.1"/>
<rect x="263.6" y="268.1" width="4.6" height="5.7" fill="#f49a14"/>
<line x1="263.6" y1="273" x2="268.2" y2="273" stroke="#7a3a00" stroke-width="1.1"/>
<line x1="281.4" y1="263.2" x2="281.4" y2="275.5" stroke="#4e4e4e" stroke-width="1.1"/>
<line x1="279.7" y1="263.2" x2="283.1" y2="263.2" stroke="#4e4e4e" stroke-width="1.1"/>
<line x1="279.7" y1="275.5" x2="283.1" y2="275.5" stroke="#4e4e4e" stroke-width="1.1"/>
<rect x="279.1" y="267.3" width="4.6" height="5.2" fill="#c70a30"/>
<line x1="279.1" y1="270.1" x2="283.7" y2="270.1" stroke="#6e0a18" stroke-width="1.1"/>
<line x1="291" y1="258.8" x2="291" y2="276.5" stroke="#4e4e4e" stroke-width="1.1"/>
<line x1="289.3" y1="258.8" x2="292.7" y2="258.8" stroke="#4e4e4e" stroke-width="1.1"/>
<line x1="289.3" y1="276.5" x2="292.7" y2="276.5" stroke="#4e4e4e" stroke-width="1.1"/>
<rect x="288.7" y="269.8" width="4.6" height="4" fill="#f49a14"/>
<line x1="288.7" y1="272.5" x2="293.3" y2="272.5" stroke="#7a3a00" stroke-width="1.1"/>
<line x1="306.4" y1="234.3" x2="306.4" y2="264.9" stroke="#4e4e4e" stroke-width="1.1"/>
<line x1="304.7" y1="234.3" x2="308.1" y2="234.3" stroke="#4e4e4e" stroke-width="1.1"/>
<line x1="304.7" y1="264.9" x2="308.1" y2="264.9" stroke="#4e4e4e" stroke-width="1.1"/>
<rect x="304.1" y="241.2" width="4.6" height="23.7" fill="#c70a30"/>
<line x1="304.1" y1="262.4" x2="308.7" y2="262.4" stroke="#6e0a18" stroke-width="1.1"/>
<line x1="316.1" y1="254.6" x2="316.1" y2="273.5" stroke="#4e4e4e" stroke-width="1.1"/>
<line x1="314.4" y1="254.6" x2="317.8" y2="254.6" stroke="#4e4e4e" stroke-width="1.1"/>
<line x1="314.4" y1="273.5" x2="317.8" y2="273.5" stroke="#4e4e4e" stroke-width="1.1"/>
<rect x="313.8" y="259.1" width="4.6" height="13.1" fill="#f49a14"/>
<line x1="313.8" y1="266.2" x2="318.4" y2="266.2" stroke="#7a3a00" stroke-width="1.1"/>
<text transform="translate(197.4,223.5) rotate(-90)" x="0" y="0" font-size="9.2" text-anchor="middle" fill="#222" stroke="#222" stroke-width="0.25" textLength="68.3" lengthAdjust="spacingAndGlyphs">% Among Vd1 T cells</text>
<line x1="368.3" y1="169.5" x2="368.3" y2="277.4" stroke="#2a2a2a" stroke-width="1.3"/>
<line x1="365.1" y1="276.8" x2="368.3" y2="276.8" stroke="#2a2a2a" stroke-width="1"/>
<text x="362.35" y="280.12" font-size="8.3" text-anchor="end" font-weight="normal" fill="#222" letter-spacing="0.15">0</text>
<line x1="365.1" y1="255.93" x2="368.3" y2="255.93" stroke="#2a2a2a" stroke-width="1"/>
<text x="362.35" y="259.25" font-size="8.3" text-anchor="end" font-weight="normal" fill="#222" letter-spacing="0.15">10</text>
<line x1="365.1" y1="235.06" x2="368.3" y2="235.06" stroke="#2a2a2a" stroke-width="1"/>
<text x="362.35" y="238.38" font-size="8.3" text-anchor="end" font-weight="normal" fill="#222" letter-spacing="0.15">20</text>
<line x1="365.1" y1="214.19" x2="368.3" y2="214.19" stroke="#2a2a2a" stroke-width="1"/>
<text x="362.35" y="217.51" font-size="8.3" text-anchor="end" font-weight="normal" fill="#222" letter-spacing="0.15">30</text>
<line x1="365.1" y1="193.32" x2="368.3" y2="193.32" stroke="#2a2a2a" stroke-width="1"/>
<text x="362.35" y="196.64" font-size="8.3" text-anchor="end" font-weight="normal" fill="#222" letter-spacing="0.15">40</text>
<line x1="365.1" y1="172.45" x2="368.3" y2="172.45" stroke="#2a2a2a" stroke-width="1"/>
<text x="362.35" y="175.77" font-size="8.3" text-anchor="end" font-weight="normal" fill="#222" letter-spacing="0.15">50</text>
<line x1="365.3" y1="276.8" x2="468" y2="276.8" stroke="#2a2a2a" stroke-width="1.3"/>
<line x1="379.2" y1="276.8" x2="379.2" y2="279.8" stroke="#2a2a2a" stroke-width="1"/>
<text x="379.2" y="291" font-size="8.2" text-anchor="middle" font-weight="normal" fill="#222">Graft</text>
<line x1="405.4" y1="276.8" x2="405.4" y2="279.8" stroke="#2a2a2a" stroke-width="1"/>
<text x="405.4" y="291" font-size="8.2" text-anchor="middle" font-weight="normal" fill="#222">T30</text>
<line x1="430.8" y1="276.8" x2="430.8" y2="279.8" stroke="#2a2a2a" stroke-width="1"/>
<text x="430.8" y="291" font-size="8.2" text-anchor="middle" font-weight="normal" fill="#222">T60</text>
<line x1="457.1" y1="276.8" x2="457.1" y2="279.8" stroke="#2a2a2a" stroke-width="1"/>
<text x="457.1" y="291" font-size="8.2" text-anchor="middle" font-weight="normal" fill="#222">T120</text>
<line x1="389.4" y1="171" x2="389.4" y2="276.3" stroke="#3a4254" stroke-width="1.1" stroke-dasharray="1.8,1.2"/>
<text x="418.5" y="163.5" font-size="9.8" text-anchor="middle" font-weight="normal" fill="#222" textLength="15.6" lengthAdjust="spacingAndGlyphs">CM</text>
<line x1="375" y1="248.5" x2="375" y2="263.5" stroke="#4e4e4e" stroke-width="1.1"/>
<line x1="373.3" y1="248.5" x2="376.7" y2="248.5" stroke="#4e4e4e" stroke-width="1.1"/>
<line x1="373.3" y1="263.5" x2="376.7" y2="263.5" stroke="#4e4e4e" stroke-width="1.1"/>
<rect x="372.7" y="251.8" width="4.6" height="4.9" fill="#c70a30"/>
<line x1="372.7" y1="253.9" x2="377.3" y2="253.9" stroke="#6e0a18" stroke-width="1.1"/>
<line x1="384.6" y1="231.3" x2="384.6" y2="271.4" stroke="#4e4e4e" stroke-width="1.1"/>
<line x1="382.9" y1="231.3" x2="386.3" y2="231.3" stroke="#4e4e4e" stroke-width="1.1"/>
<line x1="382.9" y1="271.4" x2="386.3" y2="271.4" stroke="#4e4e4e" stroke-width="1.1"/>
<rect x="382.3" y="244.4" width="4.6" height="15.6" fill="#f49a14"/>
<line x1="382.3" y1="248.2" x2="386.9" y2="248.2" stroke="#7a3a00" stroke-width="1.1"/>
<line x1="400.6" y1="195.7" x2="400.6" y2="273.5" stroke="#4e4e4e" stroke-width="1.1"/>
<line x1="398.9" y1="195.7" x2="402.3" y2="195.7" stroke="#4e4e4e" stroke-width="1.1"/>
<line x1="398.9" y1="273.5" x2="402.3" y2="273.5" stroke="#4e4e4e" stroke-width="1.1"/>
<rect x="398.3" y="197.6" width="4.6" height="75.9" fill="#c70a30"/>
<line x1="398.3" y1="267" x2="402.9" y2="267" stroke="#6e0a18" stroke-width="1.1"/>
<line x1="410.5" y1="244.1" x2="410.5" y2="276.5" stroke="#4e4e4e" stroke-width="1.1"/>
<line x1="408.8" y1="244.1" x2="412.2" y2="244.1" stroke="#4e4e4e" stroke-width="1.1"/>
<line x1="408.8" y1="276.5" x2="412.2" y2="276.5" stroke="#4e4e4e" stroke-width="1.1"/>
<rect x="408.2" y="267.6" width="4.6" height="7.9" fill="#f49a14"/>
<line x1="408.2" y1="274.7" x2="412.8" y2="274.7" stroke="#7a3a00" stroke-width="1.1"/>
<line x1="426.3" y1="235.1" x2="426.3" y2="273.5" stroke="#4e4e4e" stroke-width="1.1"/>
<line x1="424.6" y1="235.1" x2="428" y2="235.1" stroke="#4e4e4e" stroke-width="1.1"/>
<line x1="424.6" y1="273.5" x2="428" y2="273.5" stroke="#4e4e4e" stroke-width="1.1"/>
<rect x="424" y="256.2" width="4.6" height="15.7" fill="#c70a30"/>
<line x1="424" y1="264" x2="428.6" y2="264" stroke="#6e0a18" stroke-width="1.1"/>
<line x1="436.3" y1="260.3" x2="436.3" y2="276.5" stroke="#4e4e4e" stroke-width="1.1"/>
<line x1="434.6" y1="260.3" x2="438" y2="260.3" stroke="#4e4e4e" stroke-width="1.1"/>
<line x1="434.6" y1="276.5" x2="438" y2="276.5" stroke="#4e4e4e" stroke-width="1.1"/>
<rect x="434" y="269" width="4.6" height="6.8" fill="#f49a14"/>
<line x1="434" y1="274.2" x2="438.6" y2="274.2" stroke="#7a3a00" stroke-width="1.1"/>
<line x1="452.2" y1="223.5" x2="452.2" y2="254.6" stroke="#4e4e4e" stroke-width="1.1"/>
<line x1="450.5" y1="223.5" x2="453.9" y2="223.5" stroke="#4e4e4e" stroke-width="1.1"/>
<line x1="450.5" y1="254.6" x2="453.9" y2="254.6" stroke="#4e4e4e" stroke-width="1.1"/>
<rect x="449.9" y="225.1" width="4.6" height="23.4" fill="#c70a30"/>
<line x1="449.9" y1="230.5" x2="454.5" y2="230.5" stroke="#6e0a18" stroke-width="1.1"/>
<line x1="461.6" y1="256.7" x2="461.6" y2="276.3" stroke="#4e4e4e" stroke-width="1.1"/>
<line x1="459.9" y1="256.7" x2="463.3" y2="256.7" stroke="#4e4e4e" stroke-width="1.1"/>
<line x1="459.9" y1="276.3" x2="463.3" y2="276.3" stroke="#4e4e4e" stroke-width="1.1"/>
<rect x="459.3" y="258.3" width="4.6" height="13.1" fill="#f49a14"/>
<line x1="459.3" y1="263.2" x2="463.9" y2="263.2" stroke="#7a3a00" stroke-width="1.1"/>
<text transform="translate(345.8,223.6) rotate(-90)" x="0" y="0" font-size="9.2" text-anchor="middle" fill="#222" stroke="#222" stroke-width="0.25" textLength="68.4" lengthAdjust="spacingAndGlyphs">% Among Vd1 T cells</text>
<line x1="400.4" y1="188.3" x2="413.5" y2="188.3" stroke="#2a2a2a" stroke-width="1.1"/>
<text x="406.95" y="187.6" font-size="7.6" text-anchor="middle" font-weight="normal" fill="#222">*</text>
<line x1="425" y1="227.6" x2="437.6" y2="227.6" stroke="#2a2a2a" stroke-width="1.1"/>
<text x="431.3" y="226.9" font-size="7.6" text-anchor="middle" font-weight="normal" fill="#222">*</text>
<line x1="451.5" y1="218.2" x2="464.6" y2="218.2" stroke="#2a2a2a" stroke-width="1.1"/>
<text x="458.05" y="217.5" font-size="7.6" text-anchor="middle" font-weight="normal" fill="#222">*</text>
<rect x="474.3" y="172.8" width="6.4" height="6.4" fill="#c70a30"/>
<text x="484" y="178.5" font-size="6.9" text-anchor="start" font-weight="normal" fill="#222">No-VR</text>
<rect x="474.3" y="183.6" width="6.4" height="6.4" fill="#f49a14"/>
<text x="484" y="189.3" font-size="6.9" text-anchor="start" font-weight="normal" fill="#222">CMV-R</text>
<line x1="225.3" y1="317.5" x2="225.3" y2="421.2" stroke="#2a2a2a" stroke-width="1.3"/>
<line x1="222.1" y1="420.6" x2="225.3" y2="420.6" stroke="#2a2a2a" stroke-width="1"/>
<text x="218.15" y="423.92" font-size="8.3" text-anchor="end" font-weight="normal" fill="#222" letter-spacing="0.15">0</text>
<line x1="222.1" y1="395.55" x2="225.3" y2="395.55" stroke="#2a2a2a" stroke-width="1"/>
<text x="218.15" y="398.87" font-size="8.3" text-anchor="end" font-weight="normal" fill="#222" letter-spacing="0.15">20</text>
<line x1="222.1" y1="370.5" x2="225.3" y2="370.5" stroke="#2a2a2a" stroke-width="1"/>
<text x="218.15" y="373.82" font-size="8.3" text-anchor="end" font-weight="normal" fill="#222" letter-spacing="0.15">40</text>
<line x1="222.1" y1="345.45" x2="225.3" y2="345.45" stroke="#2a2a2a" stroke-width="1"/>
<text x="218.15" y="348.77" font-size="8.3" text-anchor="end" font-weight="normal" fill="#222" letter-spacing="0.15">60</text>
<line x1="222.1" y1="320.4" x2="225.3" y2="320.4" stroke="#2a2a2a" stroke-width="1"/>
<text x="218.15" y="323.72" font-size="8.3" text-anchor="end" font-weight="normal" fill="#222" letter-spacing="0.15">80</text>
<line x1="222.3" y1="420.6" x2="326.3" y2="420.6" stroke="#2a2a2a" stroke-width="1.3"/>
<line x1="236.3" y1="420.6" x2="236.3" y2="423.6" stroke="#2a2a2a" stroke-width="1"/>
<text x="236.3" y="434.8" font-size="8.2" text-anchor="middle" font-weight="normal" fill="#222">Graft</text>
<line x1="262.4" y1="420.6" x2="262.4" y2="423.6" stroke="#2a2a2a" stroke-width="1"/>
<text x="262.4" y="434.8" font-size="8.2" text-anchor="middle" font-weight="normal" fill="#222">T30</text>
<line x1="289.2" y1="420.6" x2="289.2" y2="423.6" stroke="#2a2a2a" stroke-width="1"/>
<text x="289.2" y="434.8" font-size="8.2" text-anchor="middle" font-weight="normal" fill="#222">T60</text>
<line x1="314.9" y1="420.6" x2="314.9" y2="423.6" stroke="#2a2a2a" stroke-width="1"/>
<text x="314.9" y="434.8" font-size="8.2" text-anchor="middle" font-weight="normal" fill="#222">T120</text>
<line x1="249.4" y1="320" x2="249.4" y2="420.1" stroke="#3a4254" stroke-width="1.1" stroke-dasharray="1.8,1.2"/>
<text x="275.8" y="311.4" font-size="9.8" text-anchor="middle" font-weight="normal" fill="#222" textLength="14.2" lengthAdjust="spacingAndGlyphs">EM</text>
<line x1="231.7" y1="375.5" x2="231.7" y2="418.5" stroke="#4e4e4e" stroke-width="1.1"/>
<line x1="230" y1="375.5" x2="233.4" y2="375.5" stroke="#4e4e4e" stroke-width="1.1"/>
<line x1="230" y1="418.5" x2="233.4" y2="418.5" stroke="#4e4e4e" stroke-width="1.1"/>
<rect x="229.4" y="407.4" width="4.6" height="10.6" fill="#c70a30"/>
<line x1="229.4" y1="417.2" x2="234" y2="417.2" stroke="#6e0a18" stroke-width="1.1"/>
<line x1="241.5" y1="383.4" x2="241.5" y2="419.5" stroke="#4e4e4e" stroke-width="1.1"/>
<line x1="239.8" y1="383.4" x2="243.2" y2="383.4" stroke="#4e4e4e" stroke-width="1.1"/>
<line x1="239.8" y1="419.5" x2="243.2" y2="419.5" stroke="#4e4e4e" stroke-width="1.1"/>
<rect x="239.2" y="411.5" width="4.6" height="6.5" fill="#f49a14"/>
<line x1="239.2" y1="415.6" x2="243.8" y2="415.6" stroke="#7a3a00" stroke-width="1.1"/>
<line x1="258.2" y1="355.2" x2="258.2" y2="411" stroke="#4e4e4e" stroke-width="1.1"/>
<line x1="256.5" y1="355.2" x2="259.9" y2="355.2" stroke="#4e4e4e" stroke-width="1.1"/>
<line x1="256.5" y1="411" x2="259.9" y2="411" stroke="#4e4e4e" stroke-width="1.1"/>
<rect x="255.9" y="360.8" width="4.6" height="47.9" fill="#c70a30"/>
<line x1="255.9" y1="384.8" x2="260.5" y2="384.8" stroke="#6e0a18" stroke-width="1.1"/>
<line x1="267.7" y1="358.5" x2="267.7" y2="414.3" stroke="#4e4e4e" stroke-width="1.1"/>
<line x1="266" y1="358.5" x2="269.4" y2="358.5" stroke="#4e4e4e" stroke-width="1.1"/>
<line x1="266" y1="414.3" x2="269.4" y2="414.3" stroke="#4e4e4e" stroke-width="1.1"/>
<rect x="265.4" y="390.7" width="4.6" height="12.6" fill="#f49a14"/>
<line x1="265.4" y1="397.1" x2="270" y2="397.1" stroke="#7a3a00" stroke-width="1.1"/>
<line x1="284" y1="325.3" x2="284" y2="387" stroke="#4e4e4e" stroke-width="1.1"/>
<line x1="282.3" y1="325.3" x2="285.7" y2="325.3" stroke="#4e4e4e" stroke-width="1.1"/>
<line x1="282.3" y1="387" x2="285.7" y2="387" stroke="#4e4e4e" stroke-width="1.1"/>
<rect x="281.7" y="349.6" width="4.6" height="28.1" fill="#c70a30"/>
<line x1="281.7" y1="363.5" x2="286.3" y2="363.5" stroke="#6e0a18" stroke-width="1.1"/>
<line x1="293.8" y1="369" x2="293.8" y2="417.5" stroke="#4e4e4e" stroke-width="1.1"/>
<line x1="292.1" y1="369" x2="295.5" y2="369" stroke="#4e4e4e" stroke-width="1.1"/>
<line x1="292.1" y1="417.5" x2="295.5" y2="417.5" stroke="#4e4e4e" stroke-width="1.1"/>
<rect x="291.5" y="391.9" width="4.6" height="20.1" fill="#f49a14"/>
<line x1="291.5" y1="398.9" x2="296.1" y2="398.9" stroke="#7a3a00" stroke-width="1.1"/>
<line x1="310.1" y1="347.7" x2="310.1" y2="402.2" stroke="#4e4e4e" stroke-width="1.1"/>
<line x1="308.4" y1="347.7" x2="311.8" y2="347.7" stroke="#4e4e4e" stroke-width="1.1"/>
<line x1="308.4" y1="402.2" x2="311.8" y2="402.2" stroke="#4e4e4e" stroke-width="1.1"/>
<rect x="307.8" y="353.9" width="4.6" height="42.9" fill="#c70a30"/>
<line x1="307.8" y1="377" x2="312.4" y2="377" stroke="#6e0a18" stroke-width="1.1"/>
<line x1="319.8" y1="374.9" x2="319.8" y2="417.5" stroke="#4e4e4e" stroke-width="1.1"/>
<line x1="318.1" y1="374.9" x2="321.5" y2="374.9" stroke="#4e4e4e" stroke-width="1.1"/>
<line x1="318.1" y1="417.5" x2="321.5" y2="417.5" stroke="#4e4e4e" stroke-width="1.1"/>
<rect x="317.5" y="388.1" width="4.6" height="24.5" fill="#f49a14"/>
<line x1="317.5" y1="409.4" x2="322.1" y2="409.4" stroke="#7a3a00" stroke-width="1.1"/>
<text transform="translate(202,368.3) rotate(-90)" x="0" y="0" font-size="9.2" text-anchor="middle" fill="#222" stroke="#222" stroke-width="0.25" textLength="67.4" lengthAdjust="spacingAndGlyphs">% Among Vd1 T cells</text>
<line x1="282.2" y1="320.9" x2="294.9" y2="320.9" stroke="#2a2a2a" stroke-width="1.1"/>
<text x="288.55" y="320.2" font-size="7.6" text-anchor="middle" font-weight="normal" fill="#222">**</text>
<line x1="368.1" y1="313" x2="368.1" y2="421.1" stroke="#2a2a2a" stroke-width="1.3"/>
<line x1="364.9" y1="420.5" x2="368.1" y2="420.5" stroke="#2a2a2a" stroke-width="1"/>
<text x="361.65" y="423.82" font-size="8.3" text-anchor="end" font-weight="normal" fill="#222" letter-spacing="0.15">0</text>
<line x1="364.9" y1="385.7" x2="368.1" y2="385.7" stroke="#2a2a2a" stroke-width="1"/>
<text x="361.65" y="389.02" font-size="8.3" text-anchor="end" font-weight="normal" fill="#222" letter-spacing="0.15">50</text>
<line x1="364.9" y1="350.9" x2="368.1" y2="350.9" stroke="#2a2a2a" stroke-width="1"/>
<text x="361.65" y="354.22" font-size="8.3" text-anchor="end" font-weight="normal" fill="#222" letter-spacing="0.15">100</text>
<line x1="364.9" y1="316.1" x2="368.1" y2="316.1" stroke="#2a2a2a" stroke-width="1"/>
<text x="361.65" y="319.42" font-size="8.3" text-anchor="end" font-weight="normal" fill="#222" letter-spacing="0.15">150</text>
<line x1="365.1" y1="420.5" x2="465.6" y2="420.5" stroke="#2a2a2a" stroke-width="1.3"/>
<line x1="379.2" y1="420.5" x2="379.2" y2="423.5" stroke="#2a2a2a" stroke-width="1"/>
<text x="379.2" y="434.7" font-size="8.2" text-anchor="middle" font-weight="normal" fill="#222">Graft</text>
<line x1="404.2" y1="420.5" x2="404.2" y2="423.5" stroke="#2a2a2a" stroke-width="1"/>
<text x="404.2" y="434.7" font-size="8.2" text-anchor="middle" font-weight="normal" fill="#222">T30</text>
<line x1="429.6" y1="420.5" x2="429.6" y2="423.5" stroke="#2a2a2a" stroke-width="1"/>
<text x="429.6" y="434.7" font-size="8.2" text-anchor="middle" font-weight="normal" fill="#222">T60</text>
<line x1="454.5" y1="420.5" x2="454.5" y2="423.5" stroke="#2a2a2a" stroke-width="1"/>
<text x="454.5" y="434.7" font-size="8.2" text-anchor="middle" font-weight="normal" fill="#222">T120</text>
<line x1="389.9" y1="315.5" x2="389.9" y2="420" stroke="#3a4254" stroke-width="1.1" stroke-dasharray="1.8,1.2"/>
<text x="417.3" y="311.3" font-size="9.8" text-anchor="middle" font-weight="normal" fill="#222" textLength="25.2" lengthAdjust="spacingAndGlyphs">Temra</text>
<line x1="374.5" y1="380.4" x2="374.5" y2="418.5" stroke="#4e4e4e" stroke-width="1.1"/>
<line x1="372.8" y1="380.4" x2="376.2" y2="380.4" stroke="#4e4e4e" stroke-width="1.1"/>
<line x1="372.8" y1="418.5" x2="376.2" y2="418.5" stroke="#4e4e4e" stroke-width="1.1"/>
<rect x="372.2" y="388.1" width="4.6" height="7.9" fill="#c70a30"/>
<line x1="372.2" y1="389.7" x2="376.8" y2="389.7" stroke="#6e0a18" stroke-width="1.1"/>
<line x1="384.2" y1="377.4" x2="384.2" y2="418" stroke="#4e4e4e" stroke-width="1.1"/>
<line x1="382.5" y1="377.4" x2="385.9" y2="377.4" stroke="#4e4e4e" stroke-width="1.1"/>
<line x1="382.5" y1="418" x2="385.9" y2="418" stroke="#4e4e4e" stroke-width="1.1"/>
<rect x="381.9" y="386.2" width="4.6" height="20.1" fill="#f49a14"/>
<line x1="381.9" y1="397.3" x2="386.5" y2="397.3" stroke="#7a3a00" stroke-width="1.1"/>
<line x1="399.7" y1="369.1" x2="399.7" y2="408.5" stroke="#4e4e4e" stroke-width="1.1"/>
<line x1="398" y1="369.1" x2="401.4" y2="369.1" stroke="#4e4e4e" stroke-width="1.1"/>
<line x1="398" y1="408.5" x2="401.4" y2="408.5" stroke="#4e4e4e" stroke-width="1.1"/>
<rect x="397.4" y="374.4" width="4.6" height="25.2" fill="#c70a30"/>
<line x1="397.4" y1="389.9" x2="402" y2="389.9" stroke="#6e0a18" stroke-width="1.1"/>
<line x1="409.3" y1="357.2" x2="409.3" y2="403.8" stroke="#4e4e4e" stroke-width="1.1"/>
<line x1="407.6" y1="357.2" x2="411" y2="357.2" stroke="#4e4e4e" stroke-width="1.1"/>
<line x1="407.6" y1="403.8" x2="411" y2="403.8" stroke="#4e4e4e" stroke-width="1.1"/>
<rect x="407" y="365.4" width="4.6" height="11.8" fill="#f49a14"/>
<line x1="407" y1="366.2" x2="411.6" y2="366.2" stroke="#7a3a00" stroke-width="1.1"/>
<line x1="424.8" y1="373.5" x2="424.8" y2="409" stroke="#4e4e4e" stroke-width="1.1"/>
<line x1="423.1" y1="373.5" x2="426.5" y2="373.5" stroke="#4e4e4e" stroke-width="1.1"/>
<line x1="423.1" y1="409" x2="426.5" y2="409" stroke="#4e4e4e" stroke-width="1.1"/>
<rect x="422.5" y="385.8" width="4.6" height="13.8" fill="#c70a30"/>
<line x1="422.5" y1="393.8" x2="427.1" y2="393.8" stroke="#6e0a18" stroke-width="1.1"/>
<line x1="434.3" y1="353.4" x2="434.3" y2="387" stroke="#4e4e4e" stroke-width="1.1"/>
<line x1="432.6" y1="353.4" x2="436" y2="353.4" stroke="#4e4e4e" stroke-width="1.1"/>
<line x1="432.6" y1="387" x2="436" y2="387" stroke="#4e4e4e" stroke-width="1.1"/>
<rect x="432" y="360.2" width="4.6" height="9.6" fill="#f49a14"/>
<line x1="432" y1="369.5" x2="436.6" y2="369.5" stroke="#7a3a00" stroke-width="1.1"/>
<line x1="449.9" y1="399.2" x2="449.9" y2="416.4" stroke="#4e4e4e" stroke-width="1.1"/>
<line x1="448.2" y1="399.2" x2="451.6" y2="399.2" stroke="#4e4e4e" stroke-width="1.1"/>
<line x1="448.2" y1="416.4" x2="451.6" y2="416.4" stroke="#4e4e4e" stroke-width="1.1"/>
<rect x="447.6" y="400.5" width="4.6" height="12.6" fill="#c70a30"/>
<line x1="447.6" y1="406.1" x2="452.2" y2="406.1" stroke="#6e0a18" stroke-width="1.1"/>
<line x1="459.7" y1="358" x2="459.7" y2="385" stroke="#4e4e4e" stroke-width="1.1"/>
<line x1="458" y1="358" x2="461.4" y2="358" stroke="#4e4e4e" stroke-width="1.1"/>
<line x1="458" y1="385" x2="461.4" y2="385" stroke="#4e4e4e" stroke-width="1.1"/>
<rect x="457.4" y="367.3" width="4.6" height="13.6" fill="#f49a14"/>
<line x1="457.4" y1="379.3" x2="462" y2="379.3" stroke="#7a3a00" stroke-width="1.1"/>
<text transform="translate(340.8,366.6) rotate(-90)" x="0" y="0" font-size="9.2" text-anchor="middle" fill="#222" stroke="#222" stroke-width="0.25" textLength="67.4" lengthAdjust="spacingAndGlyphs">% Among Vd1 T cells</text>
<line x1="394.4" y1="348.2" x2="407" y2="348.2" stroke="#2a2a2a" stroke-width="1.1"/>
<text x="400.7" y="347.5" font-size="7.6" text-anchor="middle" font-weight="normal" fill="#222">*</text>
<line x1="423.9" y1="348.5" x2="436.2" y2="348.5" stroke="#2a2a2a" stroke-width="1.1"/>
<text x="430.05" y="347.8" font-size="7.6" text-anchor="middle" font-weight="normal" fill="#222">**</text>
<line x1="448.7" y1="348.5" x2="461.5" y2="348.5" stroke="#2a2a2a" stroke-width="1.1"/>
<text x="455.1" y="347.8" font-size="7.6" text-anchor="middle" font-weight="normal" fill="#222">*</text>
<line x1="225" y1="469.5" x2="225" y2="577.7" stroke="#2a2a2a" stroke-width="1.3"/>
<line x1="221.8" y1="577.1" x2="225" y2="577.1" stroke="#2a2a2a" stroke-width="1"/>
<text x="218.55" y="580.42" font-size="8.3" text-anchor="end" font-weight="normal" fill="#222" letter-spacing="0.15">0</text>
<line x1="221.8" y1="550.88" x2="225" y2="550.88" stroke="#2a2a2a" stroke-width="1"/>
<text x="218.55" y="554.2" font-size="8.3" text-anchor="end" font-weight="normal" fill="#222" letter-spacing="0.15">20</text>
<line x1="221.8" y1="524.66" x2="225" y2="524.66" stroke="#2a2a2a" stroke-width="1"/>
<text x="218.55" y="527.98" font-size="8.3" text-anchor="end" font-weight="normal" fill="#222" letter-spacing="0.15">40</text>
<line x1="221.8" y1="498.44" x2="225" y2="498.44" stroke="#2a2a2a" stroke-width="1"/>
<text x="218.55" y="501.76" font-size="8.3" text-anchor="end" font-weight="normal" fill="#222" letter-spacing="0.15">60</text>
<line x1="221.8" y1="472.22" x2="225" y2="472.22" stroke="#2a2a2a" stroke-width="1"/>
<text x="218.55" y="475.54" font-size="8.3" text-anchor="end" font-weight="normal" fill="#222" letter-spacing="0.15">80</text>
<line x1="222" y1="577.1" x2="325.8" y2="577.1" stroke="#2a2a2a" stroke-width="1.3"/>
<line x1="236.3" y1="577.1" x2="236.3" y2="580.1" stroke="#2a2a2a" stroke-width="1"/>
<text x="236.3" y="591.3" font-size="8.2" text-anchor="middle" font-weight="normal" fill="#222">Graft</text>
<line x1="262.1" y1="577.1" x2="262.1" y2="580.1" stroke="#2a2a2a" stroke-width="1"/>
<text x="262.1" y="591.3" font-size="8.2" text-anchor="middle" font-weight="normal" fill="#222">T30</text>
<line x1="287.9" y1="577.1" x2="287.9" y2="580.1" stroke="#2a2a2a" stroke-width="1"/>
<text x="287.9" y="591.3" font-size="8.2" text-anchor="middle" font-weight="normal" fill="#222">T60</text>
<line x1="313.5" y1="577.1" x2="313.5" y2="580.1" stroke="#2a2a2a" stroke-width="1"/>
<text x="313.5" y="591.3" font-size="8.2" text-anchor="middle" font-weight="normal" fill="#222">T120</text>
<line x1="246.6" y1="470.5" x2="246.6" y2="576.6" stroke="#3a4254" stroke-width="1.1" stroke-dasharray="1.8,1.2"/>
<text x="274.6" y="464.3" font-size="9.8" text-anchor="middle" font-weight="normal" fill="#222" textLength="23.8" lengthAdjust="spacingAndGlyphs">Naive</text>
<line x1="231.7" y1="539.8" x2="231.7" y2="576.8" stroke="#4e4e4e" stroke-width="1.1"/>
<line x1="230" y1="539.8" x2="233.4" y2="539.8" stroke="#4e4e4e" stroke-width="1.1"/>
<line x1="230" y1="576.8" x2="233.4" y2="576.8" stroke="#4e4e4e" stroke-width="1.1"/>
<rect x="229.4" y="546.4" width="4.6" height="23.4" fill="#c70a30"/>
<line x1="229.4" y1="568.9" x2="234" y2="568.9" stroke="#6e0a18" stroke-width="1.1"/>
<line x1="241.6" y1="546.4" x2="241.6" y2="572.5" stroke="#4e4e4e" stroke-width="1.1"/>
<line x1="239.9" y1="546.4" x2="243.3" y2="546.4" stroke="#4e4e4e" stroke-width="1.1"/>
<line x1="239.9" y1="572.5" x2="243.3" y2="572.5" stroke="#4e4e4e" stroke-width="1.1"/>
<rect x="239.3" y="560" width="4.6" height="10.9" fill="#f49a14"/>
<line x1="239.3" y1="567.6" x2="243.9" y2="567.6" stroke="#7a3a00" stroke-width="1.1"/>
<line x1="257.6" y1="531.3" x2="257.6" y2="575.2" stroke="#4e4e4e" stroke-width="1.1"/>
<line x1="255.9" y1="531.3" x2="259.3" y2="531.3" stroke="#4e4e4e" stroke-width="1.1"/>
<line x1="255.9" y1="575.2" x2="259.3" y2="575.2" stroke="#4e4e4e" stroke-width="1.1"/>
<rect x="255.3" y="545.7" width="4.6" height="25.7" fill="#c70a30"/>
<line x1="255.3" y1="559.1" x2="259.9" y2="559.1" stroke="#6e0a18" stroke-width="1.1"/>
<line x1="267.7" y1="521.5" x2="267.7" y2="573" stroke="#4e4e4e" stroke-width="1.1"/>
<line x1="266" y1="521.5" x2="269.4" y2="521.5" stroke="#4e4e4e" stroke-width="1.1"/>
<line x1="266" y1="573" x2="269.4" y2="573" stroke="#4e4e4e" stroke-width="1.1"/>
<rect x="265.4" y="549.3" width="4.6" height="21.3" fill="#f49a14"/>
<line x1="265.4" y1="569.8" x2="270" y2="569.8" stroke="#7a3a00" stroke-width="1.1"/>
<line x1="283.6" y1="531.2" x2="283.6" y2="572.3" stroke="#4e4e4e" stroke-width="1.1"/>
<line x1="281.9" y1="531.2" x2="285.3" y2="531.2" stroke="#4e4e4e" stroke-width="1.1"/>
<line x1="281.9" y1="572.3" x2="285.3" y2="572.3" stroke="#4e4e4e" stroke-width="1.1"/>
<rect x="281.3" y="548.8" width="4.6" height="19.6" fill="#c70a30"/>
<line x1="281.3" y1="563.5" x2="285.9" y2="563.5" stroke="#6e0a18" stroke-width="1.1"/>
<line x1="293.5" y1="514.5" x2="293.5" y2="575.3" stroke="#4e4e4e" stroke-width="1.1"/>
<line x1="291.8" y1="514.5" x2="295.2" y2="514.5" stroke="#4e4e4e" stroke-width="1.1"/>
<line x1="291.8" y1="575.3" x2="295.2" y2="575.3" stroke="#4e4e4e" stroke-width="1.1"/>
<rect x="291.2" y="533.6" width="4.6" height="36.8" fill="#f49a14"/>
<line x1="291.2" y1="560.6" x2="295.8" y2="560.6" stroke="#7a3a00" stroke-width="1.1"/>
<line x1="309.5" y1="542.9" x2="309.5" y2="571" stroke="#4e4e4e" stroke-width="1.1"/>
<line x1="307.8" y1="542.9" x2="311.2" y2="542.9" stroke="#4e4e4e" stroke-width="1.1"/>
<line x1="307.8" y1="571" x2="311.2" y2="571" stroke="#4e4e4e" stroke-width="1.1"/>
<rect x="307.2" y="547.5" width="4.6" height="22.6" fill="#c70a30"/>
<line x1="307.2" y1="562.5" x2="311.8" y2="562.5" stroke="#6e0a18" stroke-width="1.1"/>
<line x1="319.4" y1="555.3" x2="319.4" y2="572" stroke="#4e4e4e" stroke-width="1.1"/>
<line x1="317.7" y1="555.3" x2="321.1" y2="555.3" stroke="#4e4e4e" stroke-width="1.1"/>
<line x1="317.7" y1="572" x2="321.1" y2="572" stroke="#4e4e4e" stroke-width="1.1"/>
<rect x="317.1" y="559.8" width="4.6" height="10.3" fill="#f49a14"/>
<line x1="317.1" y1="565.5" x2="321.7" y2="565.5" stroke="#7a3a00" stroke-width="1.1"/>
<text transform="translate(202,523.1) rotate(-90)" x="0" y="0" font-size="9.2" text-anchor="middle" fill="#222" stroke="#222" stroke-width="0.25" textLength="67.4" lengthAdjust="spacingAndGlyphs">% Among Vd2 T cells</text>
<line x1="368.5" y1="470" x2="368.5" y2="577.7" stroke="#2a2a2a" stroke-width="1.3"/>
<line x1="365.3" y1="577.1" x2="368.5" y2="577.1" stroke="#2a2a2a" stroke-width="1"/>
<text x="361.65" y="580.42" font-size="8.3" text-anchor="end" font-weight="normal" fill="#222" letter-spacing="0.15">0</text>
<line x1="365.3" y1="550.98" x2="368.5" y2="550.98" stroke="#2a2a2a" stroke-width="1"/>
<text x="361.65" y="554.3" font-size="8.3" text-anchor="end" font-weight="normal" fill="#222" letter-spacing="0.15">20</text>
<line x1="365.3" y1="524.86" x2="368.5" y2="524.86" stroke="#2a2a2a" stroke-width="1"/>
<text x="361.65" y="528.18" font-size="8.3" text-anchor="end" font-weight="normal" fill="#222" letter-spacing="0.15">40</text>
<line x1="365.3" y1="498.74" x2="368.5" y2="498.74" stroke="#2a2a2a" stroke-width="1"/>
<text x="361.65" y="502.06" font-size="8.3" text-anchor="end" font-weight="normal" fill="#222" letter-spacing="0.15">60</text>
<line x1="365.3" y1="472.62" x2="368.5" y2="472.62" stroke="#2a2a2a" stroke-width="1"/>
<text x="361.65" y="475.94" font-size="8.3" text-anchor="end" font-weight="normal" fill="#222" letter-spacing="0.15">80</text>
<line x1="365.5" y1="577.1" x2="469.7" y2="577.1" stroke="#2a2a2a" stroke-width="1.3"/>
<line x1="379.5" y1="577.1" x2="379.5" y2="580.1" stroke="#2a2a2a" stroke-width="1"/>
<text x="379.5" y="591.3" font-size="8.2" text-anchor="middle" font-weight="normal" fill="#222">Graft</text>
<line x1="405.6" y1="577.1" x2="405.6" y2="580.1" stroke="#2a2a2a" stroke-width="1"/>
<text x="405.6" y="591.3" font-size="8.2" text-anchor="middle" font-weight="normal" fill="#222">T30</text>
<line x1="431.7" y1="577.1" x2="431.7" y2="580.1" stroke="#2a2a2a" stroke-width="1"/>
<text x="431.7" y="591.3" font-size="8.2" text-anchor="middle" font-weight="normal" fill="#222">T60</text>
<line x1="457.9" y1="577.1" x2="457.9" y2="580.1" stroke="#2a2a2a" stroke-width="1"/>
<text x="457.9" y="591.3" font-size="8.2" text-anchor="middle" font-weight="normal" fill="#222">T120</text>
<line x1="390.2" y1="470.4" x2="390.2" y2="576.6" stroke="#3a4254" stroke-width="1.1" stroke-dasharray="1.8,1.2"/>
<text x="419.2" y="463.5" font-size="9.8" text-anchor="middle" font-weight="normal" fill="#222" textLength="15.6" lengthAdjust="spacingAndGlyphs">CM</text>
<line x1="375.2" y1="484.3" x2="375.2" y2="555" stroke="#4e4e4e" stroke-width="1.1"/>
<line x1="373.5" y1="484.3" x2="376.9" y2="484.3" stroke="#4e4e4e" stroke-width="1.1"/>
<line x1="373.5" y1="555" x2="376.9" y2="555" stroke="#4e4e4e" stroke-width="1.1"/>
<rect x="372.9" y="484.3" width="4.6" height="59.6" fill="#c70a30"/>
<line x1="372.9" y1="507.2" x2="377.5" y2="507.2" stroke="#6e0a18" stroke-width="1.1"/>
<line x1="384.7" y1="483.2" x2="384.7" y2="547.4" stroke="#4e4e4e" stroke-width="1.1"/>
<line x1="383" y1="483.2" x2="386.4" y2="483.2" stroke="#4e4e4e" stroke-width="1.1"/>
<line x1="383" y1="547.4" x2="386.4" y2="547.4" stroke="#4e4e4e" stroke-width="1.1"/>
<rect x="382.4" y="501" width="4.6" height="33.6" fill="#f49a14"/>
<line x1="382.4" y1="509.7" x2="387" y2="509.7" stroke="#7a3a00" stroke-width="1.1"/>
<line x1="400.9" y1="575" x2="400.9" y2="577" stroke="#4e4e4e" stroke-width="1.1"/>
<line x1="399.2" y1="575" x2="402.6" y2="575" stroke="#4e4e4e" stroke-width="1.1"/>
<line x1="399.2" y1="577" x2="402.6" y2="577" stroke="#4e4e4e" stroke-width="1.1"/>
<rect x="398.6" y="575.3" width="4.6" height="1.3" fill="#c70a30"/>
<line x1="398.6" y1="576" x2="403.2" y2="576" stroke="#6e0a18" stroke-width="1.1"/>
<line x1="410.5" y1="574.5" x2="410.5" y2="577" stroke="#4e4e4e" stroke-width="1.1"/>
<line x1="408.8" y1="574.5" x2="412.2" y2="574.5" stroke="#4e4e4e" stroke-width="1.1"/>
<line x1="408.8" y1="577" x2="412.2" y2="577" stroke="#4e4e4e" stroke-width="1.1"/>
<rect x="408.2" y="575" width="4.6" height="1" fill="#f49a14"/>
<line x1="408.2" y1="575.5" x2="412.8" y2="575.5" stroke="#7a3a00" stroke-width="1.1"/>
<line x1="426.9" y1="571.4" x2="426.9" y2="577" stroke="#4e4e4e" stroke-width="1.1"/>
<line x1="425.2" y1="571.4" x2="428.6" y2="571.4" stroke="#4e4e4e" stroke-width="1.1"/>
<line x1="425.2" y1="577" x2="428.6" y2="577" stroke="#4e4e4e" stroke-width="1.1"/>
<rect x="424.6" y="573.8" width="4.6" height="2.2" fill="#c70a30"/>
<line x1="424.6" y1="575" x2="429.2" y2="575" stroke="#6e0a18" stroke-width="1.1"/>
<line x1="436.6" y1="568.1" x2="436.6" y2="576.5" stroke="#4e4e4e" stroke-width="1.1"/>
<line x1="434.9" y1="568.1" x2="438.3" y2="568.1" stroke="#4e4e4e" stroke-width="1.1"/>
<line x1="434.9" y1="576.5" x2="438.3" y2="576.5" stroke="#4e4e4e" stroke-width="1.1"/>
<rect x="434.3" y="570.2" width="4.6" height="5.6" fill="#f49a14"/>
<line x1="434.3" y1="573" x2="438.9" y2="573" stroke="#7a3a00" stroke-width="1.1"/>
<line x1="452.7" y1="546.9" x2="452.7" y2="570.6" stroke="#4e4e4e" stroke-width="1.1"/>
<line x1="451" y1="546.9" x2="454.4" y2="546.9" stroke="#4e4e4e" stroke-width="1.1"/>
<line x1="451" y1="570.6" x2="454.4" y2="570.6" stroke="#4e4e4e" stroke-width="1.1"/>
<rect x="450.4" y="550.1" width="4.6" height="18.8" fill="#c70a30"/>
<line x1="450.4" y1="563.2" x2="455" y2="563.2" stroke="#6e0a18" stroke-width="1.1"/>
<line x1="462.5" y1="528.4" x2="462.5" y2="575.5" stroke="#4e4e4e" stroke-width="1.1"/>
<line x1="460.8" y1="528.4" x2="464.2" y2="528.4" stroke="#4e4e4e" stroke-width="1.1"/>
<line x1="460.8" y1="575.5" x2="464.2" y2="575.5" stroke="#4e4e4e" stroke-width="1.1"/>
<rect x="460.2" y="535" width="4.6" height="28.2" fill="#f49a14"/>
<line x1="460.2" y1="552.9" x2="464.8" y2="552.9" stroke="#7a3a00" stroke-width="1.1"/>
<text transform="translate(345.1,523.1) rotate(-90)" x="0" y="0" font-size="9.2" text-anchor="middle" fill="#222" stroke="#222" stroke-width="0.25" textLength="67.4" lengthAdjust="spacingAndGlyphs">% Among Vd2 T cells</text>
<circle cx="410.5" cy="563.2" r="2.3" fill="#f0a050" stroke="#6b4a2a" stroke-width="0.9"/>
<line x1="424.4" y1="560.8" x2="438.6" y2="560.8" stroke="#5a6478" stroke-width="1.1"/>
<text x="431.5" y="560.1" font-size="7.6" text-anchor="middle" font-weight="normal" fill="#222">*</text>
<rect x="474.2" y="474.6" width="6.4" height="6.4" fill="#c70a30"/>
<text x="484" y="480.3" font-size="6.9" text-anchor="start" font-weight="normal" fill="#222">No-VR</text>
<rect x="474.2" y="485.5" width="6.4" height="6.4" fill="#f49a14"/>
<text x="484" y="491.2" font-size="6.9" text-anchor="start" font-weight="normal" fill="#222">CMV-R</text>
<line x1="225" y1="613.5" x2="225" y2="721.2" stroke="#2a2a2a" stroke-width="1.3"/>
<line x1="221.8" y1="720.6" x2="225" y2="720.6" stroke="#2a2a2a" stroke-width="1"/>
<text x="218.55" y="723.92" font-size="8.3" text-anchor="end" font-weight="normal" fill="#222" letter-spacing="0.15">0</text>
<line x1="221.8" y1="694.5" x2="225" y2="694.5" stroke="#2a2a2a" stroke-width="1"/>
<text x="218.55" y="697.82" font-size="8.3" text-anchor="end" font-weight="normal" fill="#222" letter-spacing="0.15">20</text>
<line x1="221.8" y1="668.4" x2="225" y2="668.4" stroke="#2a2a2a" stroke-width="1"/>
<text x="218.55" y="671.72" font-size="8.3" text-anchor="end" font-weight="normal" fill="#222" letter-spacing="0.15">40</text>
<line x1="221.8" y1="642.3" x2="225" y2="642.3" stroke="#2a2a2a" stroke-width="1"/>
<text x="218.55" y="645.62" font-size="8.3" text-anchor="end" font-weight="normal" fill="#222" letter-spacing="0.15">60</text>
<line x1="221.8" y1="616.2" x2="225" y2="616.2" stroke="#2a2a2a" stroke-width="1"/>
<text x="218.55" y="619.52" font-size="8.3" text-anchor="end" font-weight="normal" fill="#222" letter-spacing="0.15">80</text>
<line x1="222" y1="720.6" x2="325.8" y2="720.6" stroke="#2a2a2a" stroke-width="1.3"/>
<line x1="236.3" y1="720.6" x2="236.3" y2="723.6" stroke="#2a2a2a" stroke-width="1"/>
<text x="236.3" y="734.8" font-size="8.2" text-anchor="middle" font-weight="normal" fill="#222">Graft</text>
<line x1="262.4" y1="720.6" x2="262.4" y2="723.6" stroke="#2a2a2a" stroke-width="1"/>
<text x="262.4" y="734.8" font-size="8.2" text-anchor="middle" font-weight="normal" fill="#222">T30</text>
<line x1="288.4" y1="720.6" x2="288.4" y2="723.6" stroke="#2a2a2a" stroke-width="1"/>
<text x="288.4" y="734.8" font-size="8.2" text-anchor="middle" font-weight="normal" fill="#222">T60</text>
<line x1="314.4" y1="720.6" x2="314.4" y2="723.6" stroke="#2a2a2a" stroke-width="1"/>
<text x="314.4" y="734.8" font-size="8.2" text-anchor="middle" font-weight="normal" fill="#222">T120</text>
<line x1="247.4" y1="614.7" x2="247.4" y2="720.1" stroke="#3a4254" stroke-width="1.1" stroke-dasharray="1.8,1.2"/>
<text x="275.3" y="612.3" font-size="9.8" text-anchor="middle" font-weight="normal" fill="#222" textLength="14.2" lengthAdjust="spacingAndGlyphs">EM</text>
<line x1="231.7" y1="625.7" x2="231.7" y2="700.9" stroke="#4e4e4e" stroke-width="1.1"/>
<line x1="230" y1="625.7" x2="233.4" y2="625.7" stroke="#4e4e4e" stroke-width="1.1"/>
<line x1="230" y1="700.9" x2="233.4" y2="700.9" stroke="#4e4e4e" stroke-width="1.1"/>
<rect x="229.4" y="639.7" width="4.6" height="58.7" fill="#c70a30"/>
<line x1="229.4" y1="686.6" x2="234" y2="686.6" stroke="#6e0a18" stroke-width="1.1"/>
<line x1="241.5" y1="650.2" x2="241.5" y2="698.7" stroke="#4e4e4e" stroke-width="1.1"/>
<line x1="239.8" y1="650.2" x2="243.2" y2="650.2" stroke="#4e4e4e" stroke-width="1.1"/>
<line x1="239.8" y1="698.7" x2="243.2" y2="698.7" stroke="#4e4e4e" stroke-width="1.1"/>
<rect x="239.2" y="658.8" width="4.6" height="36.3" fill="#f49a14"/>
<line x1="239.2" y1="666.5" x2="243.8" y2="666.5" stroke="#7a3a00" stroke-width="1.1"/>
<line x1="257.6" y1="716" x2="257.6" y2="720" stroke="#4e4e4e" stroke-width="1.1"/>
<line x1="255.9" y1="716" x2="259.3" y2="716" stroke="#4e4e4e" stroke-width="1.1"/>
<line x1="255.9" y1="720" x2="259.3" y2="720" stroke="#4e4e4e" stroke-width="1.1"/>
<rect x="255.3" y="716.4" width="4.6" height="2.8" fill="#c70a30"/>
<line x1="255.3" y1="717.5" x2="259.9" y2="717.5" stroke="#6e0a18" stroke-width="1.1"/>
<line x1="267.7" y1="708.2" x2="267.7" y2="716.4" stroke="#4e4e4e" stroke-width="1.1"/>
<line x1="266" y1="708.2" x2="269.4" y2="708.2" stroke="#4e4e4e" stroke-width="1.1"/>
<line x1="266" y1="716.4" x2="269.4" y2="716.4" stroke="#4e4e4e" stroke-width="1.1"/>
<rect x="265.4" y="709.9" width="4.6" height="4.9" fill="#f49a14"/>
<line x1="265.4" y1="713.6" x2="270" y2="713.6" stroke="#7a3a00" stroke-width="1.1"/>
<line x1="283.8" y1="718" x2="283.8" y2="720.5" stroke="#4e4e4e" stroke-width="1.1"/>
<line x1="282.1" y1="718" x2="285.5" y2="718" stroke="#4e4e4e" stroke-width="1.1"/>
<line x1="282.1" y1="720.5" x2="285.5" y2="720.5" stroke="#4e4e4e" stroke-width="1.1"/>
<rect x="281.5" y="718.5" width="4.6" height="1.5" fill="#c70a30"/>
<line x1="281.5" y1="719" x2="286.1" y2="719" stroke="#6e0a18" stroke-width="1.1"/>
<line x1="293.5" y1="671.1" x2="293.5" y2="717.5" stroke="#4e4e4e" stroke-width="1.1"/>
<line x1="291.8" y1="671.1" x2="295.2" y2="671.1" stroke="#4e4e4e" stroke-width="1.1"/>
<line x1="291.8" y1="717.5" x2="295.2" y2="717.5" stroke="#4e4e4e" stroke-width="1.1"/>
<rect x="291.2" y="696.3" width="4.6" height="19.3" fill="#f49a14"/>
<line x1="291.2" y1="704.5" x2="295.8" y2="704.5" stroke="#7a3a00" stroke-width="1.1"/>
<line x1="309.6" y1="676.5" x2="309.6" y2="687.8" stroke="#4e4e4e" stroke-width="1.1"/>
<line x1="307.9" y1="676.5" x2="311.3" y2="676.5" stroke="#4e4e4e" stroke-width="1.1"/>
<line x1="307.9" y1="687.8" x2="311.3" y2="687.8" stroke="#4e4e4e" stroke-width="1.1"/>
<rect x="307.3" y="676.5" width="4.6" height="8.3" fill="#c70a30"/>
<line x1="307.3" y1="678.3" x2="311.9" y2="678.3" stroke="#6e0a18" stroke-width="1.1"/>
<line x1="319.4" y1="646.6" x2="319.4" y2="711.5" stroke="#4e4e4e" stroke-width="1.1"/>
<line x1="317.7" y1="646.6" x2="321.1" y2="646.6" stroke="#4e4e4e" stroke-width="1.1"/>
<line x1="317.7" y1="711.5" x2="321.1" y2="711.5" stroke="#4e4e4e" stroke-width="1.1"/>
<rect x="317.1" y="648.7" width="4.6" height="54.1" fill="#f49a14"/>
<line x1="317.1" y1="691.1" x2="321.7" y2="691.1" stroke="#7a3a00" stroke-width="1.1"/>
<text transform="translate(202,667.3) rotate(-90)" x="0" y="0" font-size="9.2" text-anchor="middle" fill="#222" stroke="#222" stroke-width="0.25" textLength="67.4" lengthAdjust="spacingAndGlyphs">% Among Vd2 T cells</text>
<circle cx="267" cy="651.5" r="2" fill="#f0a050" stroke="#6b4a2a" stroke-width="0.9"/>
<line x1="283.3" y1="665.1" x2="295.6" y2="665.1" stroke="#2a2a2a" stroke-width="1.1"/>
<text x="289.45" y="664.4" font-size="7.6" text-anchor="middle" font-weight="normal" fill="#222">**</text>
<line x1="368.5" y1="617" x2="368.5" y2="721.1" stroke="#2a2a2a" stroke-width="1.3"/>
<line x1="365.3" y1="720.5" x2="368.5" y2="720.5" stroke="#2a2a2a" stroke-width="1"/>
<text x="361.65" y="723.82" font-size="8.3" text-anchor="end" font-weight="normal" fill="#222" letter-spacing="0.15">0</text>
<line x1="365.3" y1="700.4" x2="368.5" y2="700.4" stroke="#2a2a2a" stroke-width="1"/>
<text x="361.65" y="703.72" font-size="8.3" text-anchor="end" font-weight="normal" fill="#222" letter-spacing="0.15">20</text>
<line x1="365.3" y1="680.3" x2="368.5" y2="680.3" stroke="#2a2a2a" stroke-width="1"/>
<text x="361.65" y="683.62" font-size="8.3" text-anchor="end" font-weight="normal" fill="#222" letter-spacing="0.15">40</text>
<line x1="365.3" y1="660.2" x2="368.5" y2="660.2" stroke="#2a2a2a" stroke-width="1"/>
<text x="361.65" y="663.52" font-size="8.3" text-anchor="end" font-weight="normal" fill="#222" letter-spacing="0.15">60</text>
<line x1="365.3" y1="640.1" x2="368.5" y2="640.1" stroke="#2a2a2a" stroke-width="1"/>
<text x="361.65" y="643.42" font-size="8.3" text-anchor="end" font-weight="normal" fill="#222" letter-spacing="0.15">80</text>
<line x1="365.3" y1="620" x2="368.5" y2="620" stroke="#2a2a2a" stroke-width="1"/>
<text x="361.65" y="623.32" font-size="8.3" text-anchor="end" font-weight="normal" fill="#222" letter-spacing="0.15">100</text>
<line x1="365.5" y1="720.5" x2="465.9" y2="720.5" stroke="#2a2a2a" stroke-width="1.3"/>
<line x1="379.1" y1="720.5" x2="379.1" y2="723.5" stroke="#2a2a2a" stroke-width="1"/>
<text x="379.1" y="734.7" font-size="8.2" text-anchor="middle" font-weight="normal" fill="#222">Graft</text>
<line x1="404.5" y1="720.5" x2="404.5" y2="723.5" stroke="#2a2a2a" stroke-width="1"/>
<text x="404.5" y="734.7" font-size="8.2" text-anchor="middle" font-weight="normal" fill="#222">T30</text>
<line x1="429.6" y1="720.5" x2="429.6" y2="723.5" stroke="#2a2a2a" stroke-width="1"/>
<text x="429.6" y="734.7" font-size="8.2" text-anchor="middle" font-weight="normal" fill="#222">T60</text>
<line x1="454.6" y1="720.5" x2="454.6" y2="723.5" stroke="#2a2a2a" stroke-width="1"/>
<text x="454.6" y="734.7" font-size="8.2" text-anchor="middle" font-weight="normal" fill="#222">T120</text>
<line x1="389.4" y1="617.2" x2="389.4" y2="720" stroke="#3a4254" stroke-width="1.1" stroke-dasharray="1.8,1.2"/>
<text x="417.7" y="611.3" font-size="9.8" text-anchor="middle" font-weight="normal" fill="#222" textLength="25.2" lengthAdjust="spacingAndGlyphs">Temra</text>
<line x1="374.6" y1="713.1" x2="374.6" y2="719" stroke="#4e4e4e" stroke-width="1.1"/>
<line x1="372.9" y1="713.1" x2="376.3" y2="713.1" stroke="#4e4e4e" stroke-width="1.1"/>
<line x1="372.9" y1="719" x2="376.3" y2="719" stroke="#4e4e4e" stroke-width="1.1"/>
<rect x="372.3" y="715.2" width="4.6" height="3.3" fill="#c70a30"/>
<line x1="372.3" y1="717" x2="376.9" y2="717" stroke="#6e0a18" stroke-width="1.1"/>
<line x1="384.3" y1="706.6" x2="384.3" y2="719.5" stroke="#4e4e4e" stroke-width="1.1"/>
<line x1="382.6" y1="706.6" x2="386" y2="706.6" stroke="#4e4e4e" stroke-width="1.1"/>
<line x1="382.6" y1="719.5" x2="386" y2="719.5" stroke="#4e4e4e" stroke-width="1.1"/>
<rect x="382" y="709" width="4.6" height="10.2" fill="#f49a14"/>
<line x1="382" y1="711" x2="386.6" y2="711" stroke="#7a3a00" stroke-width="1.1"/>
<line x1="400.1" y1="622.6" x2="400.1" y2="659.2" stroke="#4e4e4e" stroke-width="1.1"/>
<line x1="398.4" y1="622.6" x2="401.8" y2="622.6" stroke="#4e4e4e" stroke-width="1.1"/>
<line x1="398.4" y1="659.2" x2="401.8" y2="659.2" stroke="#4e4e4e" stroke-width="1.1"/>
<rect x="397.8" y="627" width="4.6" height="20.7" fill="#c70a30"/>
<line x1="397.8" y1="635.1" x2="402.4" y2="635.1" stroke="#6e0a18" stroke-width="1.1"/>
<line x1="409.4" y1="626.5" x2="409.4" y2="690.2" stroke="#4e4e4e" stroke-width="1.1"/>
<line x1="407.7" y1="626.5" x2="411.1" y2="626.5" stroke="#4e4e4e" stroke-width="1.1"/>
<line x1="407.7" y1="690.2" x2="411.1" y2="690.2" stroke="#4e4e4e" stroke-width="1.1"/>
<rect x="407.1" y="628.1" width="4.6" height="31.6" fill="#f49a14"/>
<line x1="407.1" y1="637.3" x2="411.7" y2="637.3" stroke="#7a3a00" stroke-width="1.1"/>
<line x1="424.9" y1="624.5" x2="424.9" y2="653.9" stroke="#4e4e4e" stroke-width="1.1"/>
<line x1="423.2" y1="624.5" x2="426.6" y2="624.5" stroke="#4e4e4e" stroke-width="1.1"/>
<line x1="423.2" y1="653.9" x2="426.6" y2="653.9" stroke="#4e4e4e" stroke-width="1.1"/>
<rect x="422.6" y="627.8" width="4.6" height="14.4" fill="#c70a30"/>
<line x1="422.6" y1="631.1" x2="427.2" y2="631.1" stroke="#6e0a18" stroke-width="1.1"/>
<line x1="434.4" y1="642.2" x2="434.4" y2="672.2" stroke="#4e4e4e" stroke-width="1.1"/>
<line x1="432.7" y1="642.2" x2="436.1" y2="642.2" stroke="#4e4e4e" stroke-width="1.1"/>
<line x1="432.7" y1="672.2" x2="436.1" y2="672.2" stroke="#4e4e4e" stroke-width="1.1"/>
<rect x="432.1" y="650.3" width="4.6" height="8.5" fill="#f49a14"/>
<line x1="432.1" y1="652.6" x2="436.7" y2="652.6" stroke="#7a3a00" stroke-width="1.1"/>
<line x1="450" y1="658" x2="450" y2="702.8" stroke="#4e4e4e" stroke-width="1.1"/>
<line x1="448.3" y1="658" x2="451.7" y2="658" stroke="#4e4e4e" stroke-width="1.1"/>
<line x1="448.3" y1="702.8" x2="451.7" y2="702.8" stroke="#4e4e4e" stroke-width="1.1"/>
<rect x="447.7" y="660.8" width="4.6" height="36.8" fill="#c70a30"/>
<line x1="447.7" y1="675.5" x2="452.3" y2="675.5" stroke="#6e0a18" stroke-width="1.1"/>
<line x1="459.7" y1="637.6" x2="459.7" y2="714.8" stroke="#4e4e4e" stroke-width="1.1"/>
<line x1="458" y1="637.6" x2="461.4" y2="637.6" stroke="#4e4e4e" stroke-width="1.1"/>
<line x1="458" y1="714.8" x2="461.4" y2="714.8" stroke="#4e4e4e" stroke-width="1.1"/>
<rect x="457.4" y="658" width="4.6" height="45.8" fill="#f49a14"/>
<line x1="457.4" y1="693.5" x2="462" y2="693.5" stroke="#7a3a00" stroke-width="1.1"/>
<text transform="translate(340.8,668.5) rotate(-90)" x="0" y="0" font-size="9.2" text-anchor="middle" fill="#222" stroke="#222" stroke-width="0.25" textLength="66.5" lengthAdjust="spacingAndGlyphs">% Among Vd2 T cells</text>
<line x1="425" y1="621.2" x2="437.8" y2="621.2" stroke="#2a2a2a" stroke-width="1.1"/>
<text x="431.4" y="620.5" font-size="7.6" text-anchor="middle" font-weight="normal" fill="#222">*</text>
<line x1="0" y1="0.5" x2="520" y2="0.5" stroke="#3a3a3a" stroke-width="1"/>
<line x1="0.5" y1="0" x2="0.5" y2="751" stroke="#555" stroke-width="1"/>
<line x1="519.5" y1="0" x2="519.5" y2="751" stroke="#555" stroke-width="1"/>
<line x1="0" y1="750.5" x2="520" y2="750.5" stroke="#444" stroke-width="1"/>
</svg>
</body></html>
